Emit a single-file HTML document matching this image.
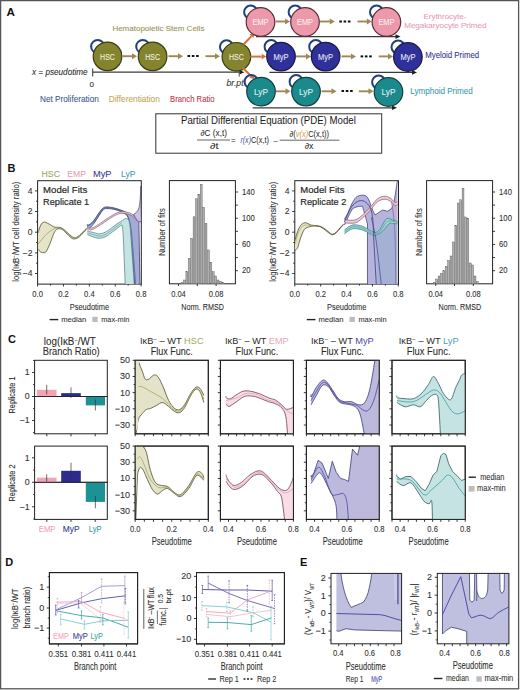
<!DOCTYPE html>
<html><head><meta charset="utf-8"><style>
html,body{margin:0;padding:0;background:#fff;}
svg{display:block;font-family:"Liberation Sans", sans-serif;}
</style></head><body>
<svg width="520" height="690" viewBox="0 0 520 690">
<defs><clipPath id="cb1"><rect x="37.6" y="180.7" width="103.7" height="103.4"/></clipPath><clipPath id="cb2"><rect x="294.8" y="180.7" width="103.7" height="103.4"/></clipPath><clipPath id="cf00"><rect x="135.2" y="360.3" width="73.10000000000002" height="73.5"/></clipPath><clipPath id="cf01"><rect x="135.2" y="446.1" width="73.10000000000002" height="73.29999999999995"/></clipPath><clipPath id="cf10"><rect x="220.4" y="360.3" width="72.99999999999997" height="73.5"/></clipPath><clipPath id="cf11"><rect x="220.4" y="446.1" width="72.99999999999997" height="73.29999999999995"/></clipPath><clipPath id="cf20"><rect x="306.4" y="360.3" width="72.80000000000001" height="73.5"/></clipPath><clipPath id="cf21"><rect x="306.4" y="446.1" width="72.80000000000001" height="73.29999999999995"/></clipPath><clipPath id="cf30"><rect x="392.0" y="360.3" width="73.19999999999999" height="73.5"/></clipPath><clipPath id="cf31"><rect x="392.0" y="446.1" width="73.19999999999999" height="73.29999999999995"/></clipPath><clipPath id="ce1"><rect x="331.0" y="573.4" width="70.6" height="70.4"/></clipPath><clipPath id="ce2"><rect x="437.3" y="573.4" width="71.6" height="70.4"/></clipPath></defs>
<rect x="0" y="0" width="520" height="690" fill="#fff"/>
<rect x="0.60" y="0.60" width="518.00" height="688.20" fill="none" stroke="#555" stroke-width="1.3" />
<text x="6.60" y="16.20" font-size="11.60" fill="#111" font-weight="bold" >A</text>
<text x="112.40" y="31.30" font-size="8.00" fill="#939350" stroke="#939350" stroke-width="0.08" textLength="92.00" lengthAdjust="spacingAndGlyphs" >Hematopoietic Stem Cells</text>
<line x1="92.70" y1="72.20" x2="241.40" y2="72.20" stroke="#3a3a3a" stroke-width="1.3" />
<path d="M244.40,72.20 L239.40,69.90 L239.40,74.50 Z" fill="#222"/>
<line x1="92.70" y1="68.50" x2="92.70" y2="76.50" stroke="#333" stroke-width="1" />
<line x1="239.20" y1="69.00" x2="239.20" y2="76.70" stroke="#555" stroke-width="1" />
<line x1="256.00" y1="36.60" x2="397.50" y2="36.60" stroke="#3a3a3a" stroke-width="1.3" />
<path d="M400.50,36.60 L395.50,34.30 L395.50,38.90 Z" fill="#222"/>
<line x1="269.40" y1="72.40" x2="414.00" y2="72.40" stroke="#3a3a3a" stroke-width="1.3" />
<path d="M417.00,72.40 L412.00,70.10 L412.00,74.70 Z" fill="#222"/>
<line x1="252.70" y1="107.80" x2="394.00" y2="107.80" stroke="#3a3a3a" stroke-width="1.3" />
<path d="M397.00,107.80 L392.00,105.50 L392.00,110.10 Z" fill="#222"/>
<circle cx="97.70" cy="46.50" r="6.6" fill="none" stroke="#1f4080" stroke-width="2.0"/>
<circle cx="107.50" cy="56.40" r="14.3" fill="#84842f" stroke="#3a3a18" stroke-width="1.2"/>
<text x="107.50" y="59.80" font-size="8.80" fill="#f4f0e0" stroke="#f4f0e0" stroke-width="0.08" textLength="14.80" lengthAdjust="spacingAndGlyphs" text-anchor="middle" >HSC</text>
<line x1="122.50" y1="56.20" x2="133.00" y2="56.20" stroke="#9c8a56" stroke-width="1.9" />
<path d="M137.00,56.20 L132.00,53.20 L132.00,59.20 Z" fill="#9c8a56"/>
<circle cx="142.80" cy="46.50" r="6.6" fill="none" stroke="#1f4080" stroke-width="2.0"/>
<circle cx="152.60" cy="56.40" r="14.3" fill="#84842f" stroke="#3a3a18" stroke-width="1.2"/>
<text x="152.60" y="59.80" font-size="8.80" fill="#f4f0e0" stroke="#f4f0e0" stroke-width="0.08" textLength="14.80" lengthAdjust="spacingAndGlyphs" text-anchor="middle" >HSC</text>
<line x1="168.50" y1="56.20" x2="179.00" y2="56.20" stroke="#9c8a56" stroke-width="1.9" />
<path d="M183.00,56.20 L178.00,53.20 L178.00,59.20 Z" fill="#9c8a56"/>
<rect x="187.50" y="55.00" width="2.60" height="2.00" fill="#111" stroke="none" stroke-width="1" />
<rect x="191.80" y="55.00" width="2.60" height="2.00" fill="#111" stroke="none" stroke-width="1" />
<rect x="196.10" y="55.00" width="2.60" height="2.00" fill="#111" stroke="none" stroke-width="1" />
<line x1="205.50" y1="56.20" x2="216.00" y2="56.20" stroke="#9c8a56" stroke-width="1.9" />
<path d="M220.00,56.20 L215.00,53.20 L215.00,59.20 Z" fill="#9c8a56"/>
<circle cx="226.60" cy="46.90" r="6.6" fill="none" stroke="#1f4080" stroke-width="2.0"/>
<circle cx="236.40" cy="56.80" r="14.3" fill="#84842f" stroke="#3a3a18" stroke-width="1.2"/>
<text x="236.40" y="60.20" font-size="8.80" fill="#f4f0e0" stroke="#f4f0e0" stroke-width="0.08" textLength="14.80" lengthAdjust="spacingAndGlyphs" text-anchor="middle" >HSC</text>
<line x1="243.50" y1="44.50" x2="251.42" y2="36.08" stroke="#d8703c" stroke-width="2.0" />
<path d="M254.50,32.80 L253.46,38.00 L249.38,34.16 Z" fill="#d8703c"/>
<line x1="250.50" y1="56.60" x2="261.70" y2="56.60" stroke="#d8703c" stroke-width="2.0" />
<path d="M266.20,56.60 L261.70,59.40 L261.70,53.80 Z" fill="#d8703c"/>
<line x1="242.50" y1="67.80" x2="251.21" y2="75.93" stroke="#d8703c" stroke-width="2.0" />
<path d="M254.50,79.00 L249.30,77.98 L253.12,73.88 Z" fill="#d8703c"/>
<circle cx="250.70" cy="12.10" r="6.6" fill="none" stroke="#1f4080" stroke-width="2.0"/>
<circle cx="260.50" cy="22.00" r="14.3" fill="#ec9aab" stroke="#5a2a3a" stroke-width="1.2"/>
<text x="260.50" y="25.40" font-size="8.80" fill="#fbeef0" stroke="#fbeef0" stroke-width="0.08" textLength="16.00" lengthAdjust="spacingAndGlyphs" text-anchor="middle" >EMP</text>
<line x1="275.60" y1="21.50" x2="286.00" y2="21.50" stroke="#9c8a56" stroke-width="1.9" />
<path d="M290.00,21.50 L285.00,18.50 L285.00,24.50 Z" fill="#9c8a56"/>
<circle cx="295.20" cy="12.10" r="6.6" fill="none" stroke="#1f4080" stroke-width="2.0"/>
<circle cx="305.00" cy="22.00" r="14.3" fill="#ec9aab" stroke="#5a2a3a" stroke-width="1.2"/>
<text x="305.00" y="25.40" font-size="8.80" fill="#fbeef0" stroke="#fbeef0" stroke-width="0.08" textLength="16.00" lengthAdjust="spacingAndGlyphs" text-anchor="middle" >EMP</text>
<line x1="320.00" y1="21.50" x2="330.80" y2="21.50" stroke="#9c8a56" stroke-width="1.9" />
<path d="M334.80,21.50 L329.80,18.50 L329.80,24.50 Z" fill="#9c8a56"/>
<rect x="339.30" y="20.50" width="2.60" height="2.00" fill="#111" stroke="none" stroke-width="1" />
<rect x="343.60" y="20.50" width="2.60" height="2.00" fill="#111" stroke="none" stroke-width="1" />
<rect x="347.90" y="20.50" width="2.60" height="2.00" fill="#111" stroke="none" stroke-width="1" />
<line x1="357.50" y1="21.50" x2="367.80" y2="21.50" stroke="#9c8a56" stroke-width="1.9" />
<path d="M371.80,21.50 L366.80,18.50 L366.80,24.50 Z" fill="#9c8a56"/>
<circle cx="376.60" cy="12.10" r="6.6" fill="none" stroke="#1f4080" stroke-width="2.0"/>
<circle cx="386.40" cy="22.00" r="14.3" fill="#ec9aab" stroke="#5a2a3a" stroke-width="1.2"/>
<text x="386.40" y="25.40" font-size="8.80" fill="#fbeef0" stroke="#fbeef0" stroke-width="0.08" textLength="16.00" lengthAdjust="spacingAndGlyphs" text-anchor="middle" >EMP</text>
<circle cx="271.20" cy="46.70" r="6.6" fill="none" stroke="#1f4080" stroke-width="2.0"/>
<circle cx="281.00" cy="56.60" r="14.3" fill="#30309a" stroke="#1a1a48" stroke-width="1.2"/>
<text x="281.00" y="60.00" font-size="8.80" fill="#e8e8f4" stroke="#e8e8f4" stroke-width="0.08" textLength="15.00" lengthAdjust="spacingAndGlyphs" text-anchor="middle" >MyP</text>
<line x1="296.00" y1="56.40" x2="307.00" y2="56.40" stroke="#9c8a56" stroke-width="1.9" />
<path d="M311.00,56.40 L306.00,53.40 L306.00,59.40 Z" fill="#9c8a56"/>
<circle cx="315.80" cy="46.70" r="6.6" fill="none" stroke="#1f4080" stroke-width="2.0"/>
<circle cx="325.60" cy="56.60" r="14.3" fill="#30309a" stroke="#1a1a48" stroke-width="1.2"/>
<text x="325.60" y="60.00" font-size="8.80" fill="#e8e8f4" stroke="#e8e8f4" stroke-width="0.08" textLength="15.00" lengthAdjust="spacingAndGlyphs" text-anchor="middle" >MyP</text>
<line x1="341.50" y1="56.40" x2="352.00" y2="56.40" stroke="#9c8a56" stroke-width="1.9" />
<path d="M356.00,56.40 L351.00,53.40 L351.00,59.40 Z" fill="#9c8a56"/>
<rect x="360.60" y="55.40" width="2.60" height="2.00" fill="#111" stroke="none" stroke-width="1" />
<rect x="364.90" y="55.40" width="2.60" height="2.00" fill="#111" stroke="none" stroke-width="1" />
<rect x="369.20" y="55.40" width="2.60" height="2.00" fill="#111" stroke="none" stroke-width="1" />
<line x1="378.70" y1="56.40" x2="389.00" y2="56.40" stroke="#9c8a56" stroke-width="1.9" />
<path d="M393.00,56.40 L388.00,53.40 L388.00,59.40 Z" fill="#9c8a56"/>
<circle cx="398.10" cy="47.10" r="6.6" fill="none" stroke="#1f4080" stroke-width="2.0"/>
<circle cx="407.90" cy="57.00" r="14.3" fill="#30309a" stroke="#1a1a48" stroke-width="1.2"/>
<text x="407.90" y="60.40" font-size="8.80" fill="#e8e8f4" stroke="#e8e8f4" stroke-width="0.08" textLength="15.00" lengthAdjust="spacingAndGlyphs" text-anchor="middle" >MyP</text>
<circle cx="251.20" cy="81.70" r="6.6" fill="none" stroke="#1f4080" stroke-width="2.0"/>
<circle cx="261.00" cy="91.60" r="14.3" fill="#1b8a8c" stroke="#173e40" stroke-width="1.2"/>
<text x="261.00" y="95.00" font-size="8.80" fill="#e0f0f0" stroke="#e0f0f0" stroke-width="0.08" textLength="14.00" lengthAdjust="spacingAndGlyphs" text-anchor="middle" >LyP</text>
<line x1="276.00" y1="91.30" x2="286.50" y2="91.30" stroke="#9c8a56" stroke-width="1.9" />
<path d="M290.50,91.30 L285.50,88.30 L285.50,94.30 Z" fill="#9c8a56"/>
<circle cx="296.20" cy="81.70" r="6.6" fill="none" stroke="#1f4080" stroke-width="2.0"/>
<circle cx="306.00" cy="91.60" r="14.3" fill="#1b8a8c" stroke="#173e40" stroke-width="1.2"/>
<text x="306.00" y="95.00" font-size="8.80" fill="#e0f0f0" stroke="#e0f0f0" stroke-width="0.08" textLength="14.00" lengthAdjust="spacingAndGlyphs" text-anchor="middle" >LyP</text>
<line x1="321.50" y1="91.30" x2="332.50" y2="91.30" stroke="#9c8a56" stroke-width="1.9" />
<path d="M336.50,91.30 L331.50,88.30 L331.50,94.30 Z" fill="#9c8a56"/>
<rect x="341.50" y="90.00" width="2.60" height="2.00" fill="#111" stroke="none" stroke-width="1" />
<rect x="345.80" y="90.00" width="2.60" height="2.00" fill="#111" stroke="none" stroke-width="1" />
<rect x="350.10" y="90.00" width="2.60" height="2.00" fill="#111" stroke="none" stroke-width="1" />
<line x1="358.80" y1="91.30" x2="369.50" y2="91.30" stroke="#9c8a56" stroke-width="1.9" />
<path d="M373.50,91.30 L368.50,88.30 L368.50,94.30 Z" fill="#9c8a56"/>
<circle cx="378.70" cy="82.10" r="6.6" fill="none" stroke="#1f4080" stroke-width="2.0"/>
<circle cx="388.50" cy="92.00" r="14.3" fill="#1b8a8c" stroke="#173e40" stroke-width="1.2"/>
<text x="388.50" y="95.40" font-size="8.80" fill="#e0f0f0" stroke="#e0f0f0" stroke-width="0.08" textLength="14.00" lengthAdjust="spacingAndGlyphs" text-anchor="middle" >LyP</text>
<text x="423.50" y="19.10" font-size="8.00" fill="#e89ab0" stroke="#e89ab0" stroke-width="0.08" textLength="42.80" lengthAdjust="spacingAndGlyphs" >Erythrocyte-</text>
<text x="404.20" y="27.90" font-size="8.00" fill="#e89ab0" stroke="#e89ab0" stroke-width="0.08" textLength="82.30" lengthAdjust="spacingAndGlyphs" >Megakaryocyte Primed</text>
<text x="425.20" y="58.00" font-size="8.40" fill="#343492" stroke="#343492" stroke-width="0.08" textLength="54.00" lengthAdjust="spacingAndGlyphs" >Myeloid Primed</text>
<text x="410.20" y="93.50" font-size="8.40" fill="#3a9cac" stroke="#3a9cac" stroke-width="0.08" textLength="62.60" lengthAdjust="spacingAndGlyphs" >Lymphoid Primed</text>
<text x="32.00" y="75.00" font-size="8.60" fill="#2a2a2a" stroke="#2a2a2a" stroke-width="0.08" textLength="55.60" lengthAdjust="spacingAndGlyphs" font-style="italic" >x = pseudotime</text>
<text x="89.60" y="86.60" font-size="8.00" fill="#2a2a2a" stroke="#2a2a2a" stroke-width="0.08" >0</text>
<text x="226.50" y="86.40" font-size="8.80" fill="#333" stroke="#333" stroke-width="0.08" textLength="17.10" lengthAdjust="spacingAndGlyphs" font-style="italic" >br.pt</text>
<text x="40.00" y="101.60" font-size="8.40" fill="#3a5a96" stroke="#3a5a96" stroke-width="0.08" textLength="58.80" lengthAdjust="spacingAndGlyphs" >Net Proliferation</text>
<text x="108.80" y="101.60" font-size="8.40" fill="#c6a854" stroke="#c6a854" stroke-width="0.08" textLength="51.00" lengthAdjust="spacingAndGlyphs" >Differentiation</text>
<text x="170.00" y="101.60" font-size="8.40" fill="#c23848" stroke="#c23848" stroke-width="0.08" textLength="44.60" lengthAdjust="spacingAndGlyphs" >Branch Ratio</text>
<rect x="155.80" y="113.80" width="225.90" height="39.40" fill="none" stroke="#333" stroke-width="1.0" />
<text x="181.00" y="124.30" font-size="10.40" fill="#1e1e1e" stroke="#1e1e1e" stroke-width="0.05" textLength="174.80" lengthAdjust="spacingAndGlyphs" >Partial Differential Equation (PDE) Model</text>
<text x="200.50" y="136.40" font-size="8.60" fill="#222" textLength="26.50" lengthAdjust="spacingAndGlyphs" >∂C (x,t)</text>
<line x1="197.00" y1="140.00" x2="230.00" y2="140.00" stroke="#333" stroke-width="0.75" />
<text x="210.00" y="148.60" font-size="8.60" fill="#222" textLength="8.50" lengthAdjust="spacingAndGlyphs" >∂t</text>
<text x="231.00" y="142.70" font-size="7.80" fill="#222" >=</text>
<text x="240.40" y="142.70" font-size="8.60" fill="#3a5aa8" textLength="10.60" lengthAdjust="spacingAndGlyphs" font-style="italic" >r(x)</text>
<text x="251.00" y="142.70" font-size="8.60" fill="#222" textLength="18.00" lengthAdjust="spacingAndGlyphs" >C(x,t)</text>
<text x="273.50" y="142.70" font-size="7.80" fill="#222" >–</text>
<line x1="279.60" y1="140.20" x2="339.40" y2="140.20" stroke="#333" stroke-width="0.75" />
<text x="289.5" y="137.2" font-size="8.6" fill="#222" textLength="39.5" lengthAdjust="spacingAndGlyphs">∂(<tspan fill="#d0a040" font-style="italic">v(x)</tspan>C(x,t))</text>
<text x="304.80" y="148.60" font-size="8.60" fill="#222" textLength="8.70" lengthAdjust="spacingAndGlyphs" >∂x</text>
<text x="7.40" y="172.00" font-size="11.00" fill="#111" font-weight="bold" >B</text>
<text x="41.50" y="176.80" font-size="9.68" fill="#a4a460" stroke="#a4a460" stroke-width="0.08" textLength="18.50" lengthAdjust="spacingAndGlyphs" >HSC</text>
<text x="67.30" y="176.80" font-size="9.68" fill="#e6a0b2" stroke="#e6a0b2" stroke-width="0.08" textLength="18.70" lengthAdjust="spacingAndGlyphs" >EMP</text>
<text x="93.00" y="176.80" font-size="9.68" fill="#38388e" stroke="#38388e" stroke-width="0.08" textLength="18.50" lengthAdjust="spacingAndGlyphs" >MyP</text>
<text x="121.00" y="176.80" font-size="9.68" fill="#40a0b0" stroke="#40a0b0" stroke-width="0.08" textLength="14.40" lengthAdjust="spacingAndGlyphs" >LyP</text>
<rect x="37.60" y="180.70" width="103.70" height="103.40" fill="none" stroke="#222" stroke-width="1.0" />
<line x1="35.00" y1="190.90" x2="37.60" y2="190.90" stroke="#222" stroke-width="0.9" />
<line x1="35.00" y1="211.50" x2="37.60" y2="211.50" stroke="#222" stroke-width="0.9" />
<line x1="35.00" y1="232.20" x2="37.60" y2="232.20" stroke="#222" stroke-width="0.9" />
<line x1="35.00" y1="252.90" x2="37.60" y2="252.90" stroke="#222" stroke-width="0.9" />
<line x1="35.00" y1="273.50" x2="37.60" y2="273.50" stroke="#222" stroke-width="0.9" />
<line x1="36.00" y1="201.20" x2="37.60" y2="201.20" stroke="#222" stroke-width="0.9" />
<line x1="36.00" y1="221.85" x2="37.60" y2="221.85" stroke="#222" stroke-width="0.9" />
<line x1="36.00" y1="242.55" x2="37.60" y2="242.55" stroke="#222" stroke-width="0.9" />
<line x1="36.00" y1="263.20" x2="37.60" y2="263.20" stroke="#222" stroke-width="0.9" />
<text x="32.40" y="193.70" font-size="8.55" fill="#2e2e2e" stroke="#2e2e2e" stroke-width="0.08" text-anchor="end" >4</text>
<text x="32.40" y="214.30" font-size="8.55" fill="#2e2e2e" stroke="#2e2e2e" stroke-width="0.08" text-anchor="end" >2</text>
<text x="32.40" y="235.00" font-size="8.55" fill="#2e2e2e" stroke="#2e2e2e" stroke-width="0.08" text-anchor="end" >0</text>
<text x="32.40" y="255.70" font-size="8.55" fill="#2e2e2e" stroke="#2e2e2e" stroke-width="0.08" text-anchor="end" >−2</text>
<text x="32.40" y="276.30" font-size="8.55" fill="#2e2e2e" stroke="#2e2e2e" stroke-width="0.08" text-anchor="end" >−4</text>
<line x1="37.60" y1="284.10" x2="37.60" y2="286.50" stroke="#222" stroke-width="0.9" />
<line x1="63.48" y1="284.10" x2="63.48" y2="286.50" stroke="#222" stroke-width="0.9" />
<line x1="89.36" y1="284.10" x2="89.36" y2="286.50" stroke="#222" stroke-width="0.9" />
<line x1="115.24" y1="284.10" x2="115.24" y2="286.50" stroke="#222" stroke-width="0.9" />
<line x1="141.12" y1="284.10" x2="141.12" y2="286.50" stroke="#222" stroke-width="0.9" />
<line x1="50.54" y1="284.10" x2="50.54" y2="285.60" stroke="#222" stroke-width="0.9" />
<line x1="76.42" y1="284.10" x2="76.42" y2="285.60" stroke="#222" stroke-width="0.9" />
<line x1="102.30" y1="284.10" x2="102.30" y2="285.60" stroke="#222" stroke-width="0.9" />
<line x1="128.18" y1="284.10" x2="128.18" y2="285.60" stroke="#222" stroke-width="0.9" />
<text x="37.60" y="297.00" font-size="8.51" fill="#2e2e2e" stroke="#2e2e2e" stroke-width="0.08" textLength="10.60" lengthAdjust="spacingAndGlyphs" text-anchor="middle" >0.0</text>
<text x="63.48" y="297.00" font-size="8.51" fill="#2e2e2e" stroke="#2e2e2e" stroke-width="0.08" textLength="10.60" lengthAdjust="spacingAndGlyphs" text-anchor="middle" >0.2</text>
<text x="89.36" y="297.00" font-size="8.51" fill="#2e2e2e" stroke="#2e2e2e" stroke-width="0.08" textLength="10.60" lengthAdjust="spacingAndGlyphs" text-anchor="middle" >0.4</text>
<text x="115.24" y="297.00" font-size="8.51" fill="#2e2e2e" stroke="#2e2e2e" stroke-width="0.08" textLength="10.60" lengthAdjust="spacingAndGlyphs" text-anchor="middle" >0.6</text>
<text x="141.12" y="297.00" font-size="8.51" fill="#2e2e2e" stroke="#2e2e2e" stroke-width="0.08" textLength="10.60" lengthAdjust="spacingAndGlyphs" text-anchor="middle" >0.8</text>
<text x="89.45" y="310.20" font-size="9.33" fill="#2e2e2e" stroke="#2e2e2e" stroke-width="0.08" textLength="39.40" lengthAdjust="spacingAndGlyphs" text-anchor="middle" >Pseudotime</text>
<text transform="translate(15.40,231.70) rotate(-90)" x="0" y="3.19" font-size="8.86" fill="#2e2e2e" text-anchor="middle" stroke="#2e2e2e" stroke-width="0.08" textLength="100.00" lengthAdjust="spacingAndGlyphs">log(IκB<tspan baseline-shift="super" font-size="5">−</tspan>/WT cell density ratio)</text>
<text x="43.10" y="193.30" font-size="9.79" fill="#262626" stroke="#262626" stroke-width="0.18" textLength="44.20" lengthAdjust="spacingAndGlyphs" >Model Fits</text>
<text x="43.10" y="204.60" font-size="9.79" fill="#262626" stroke="#262626" stroke-width="0.18" textLength="46.10" lengthAdjust="spacingAndGlyphs" >Replicate 1</text>
<line x1="49.60" y1="319.60" x2="58.30" y2="319.60" stroke="#222" stroke-width="1.4" />
<text x="61.20" y="321.50" font-size="7.70" fill="#333" stroke="#333" stroke-width="0.08" textLength="25.00" lengthAdjust="spacingAndGlyphs" >median</text>
<rect x="92.30" y="316.80" width="5.40" height="5.20" fill="#bdbdbd" stroke="none" stroke-width="1" />
<text x="101.20" y="321.50" font-size="7.70" fill="#333" stroke="#333" stroke-width="0.08" textLength="28.20" lengthAdjust="spacingAndGlyphs" >max-min</text>
<rect x="294.80" y="180.70" width="103.70" height="103.40" fill="none" stroke="#222" stroke-width="1.0" />
<line x1="292.20" y1="190.90" x2="294.80" y2="190.90" stroke="#222" stroke-width="0.9" />
<line x1="292.20" y1="211.50" x2="294.80" y2="211.50" stroke="#222" stroke-width="0.9" />
<line x1="292.20" y1="232.20" x2="294.80" y2="232.20" stroke="#222" stroke-width="0.9" />
<line x1="292.20" y1="252.90" x2="294.80" y2="252.90" stroke="#222" stroke-width="0.9" />
<line x1="292.20" y1="273.50" x2="294.80" y2="273.50" stroke="#222" stroke-width="0.9" />
<line x1="293.20" y1="201.20" x2="294.80" y2="201.20" stroke="#222" stroke-width="0.9" />
<line x1="293.20" y1="221.85" x2="294.80" y2="221.85" stroke="#222" stroke-width="0.9" />
<line x1="293.20" y1="242.55" x2="294.80" y2="242.55" stroke="#222" stroke-width="0.9" />
<line x1="293.20" y1="263.20" x2="294.80" y2="263.20" stroke="#222" stroke-width="0.9" />
<text x="289.60" y="193.70" font-size="8.55" fill="#2e2e2e" stroke="#2e2e2e" stroke-width="0.08" text-anchor="end" >4</text>
<text x="289.60" y="214.30" font-size="8.55" fill="#2e2e2e" stroke="#2e2e2e" stroke-width="0.08" text-anchor="end" >2</text>
<text x="289.60" y="235.00" font-size="8.55" fill="#2e2e2e" stroke="#2e2e2e" stroke-width="0.08" text-anchor="end" >0</text>
<text x="289.60" y="255.70" font-size="8.55" fill="#2e2e2e" stroke="#2e2e2e" stroke-width="0.08" text-anchor="end" >−2</text>
<text x="289.60" y="276.30" font-size="8.55" fill="#2e2e2e" stroke="#2e2e2e" stroke-width="0.08" text-anchor="end" >−4</text>
<line x1="294.80" y1="284.10" x2="294.80" y2="286.50" stroke="#222" stroke-width="0.9" />
<line x1="320.68" y1="284.10" x2="320.68" y2="286.50" stroke="#222" stroke-width="0.9" />
<line x1="346.56" y1="284.10" x2="346.56" y2="286.50" stroke="#222" stroke-width="0.9" />
<line x1="372.44" y1="284.10" x2="372.44" y2="286.50" stroke="#222" stroke-width="0.9" />
<line x1="398.32" y1="284.10" x2="398.32" y2="286.50" stroke="#222" stroke-width="0.9" />
<line x1="307.74" y1="284.10" x2="307.74" y2="285.60" stroke="#222" stroke-width="0.9" />
<line x1="333.62" y1="284.10" x2="333.62" y2="285.60" stroke="#222" stroke-width="0.9" />
<line x1="359.50" y1="284.10" x2="359.50" y2="285.60" stroke="#222" stroke-width="0.9" />
<line x1="385.38" y1="284.10" x2="385.38" y2="285.60" stroke="#222" stroke-width="0.9" />
<text x="294.80" y="297.00" font-size="8.51" fill="#2e2e2e" stroke="#2e2e2e" stroke-width="0.08" textLength="10.60" lengthAdjust="spacingAndGlyphs" text-anchor="middle" >0.0</text>
<text x="320.68" y="297.00" font-size="8.51" fill="#2e2e2e" stroke="#2e2e2e" stroke-width="0.08" textLength="10.60" lengthAdjust="spacingAndGlyphs" text-anchor="middle" >0.2</text>
<text x="346.56" y="297.00" font-size="8.51" fill="#2e2e2e" stroke="#2e2e2e" stroke-width="0.08" textLength="10.60" lengthAdjust="spacingAndGlyphs" text-anchor="middle" >0.4</text>
<text x="372.44" y="297.00" font-size="8.51" fill="#2e2e2e" stroke="#2e2e2e" stroke-width="0.08" textLength="10.60" lengthAdjust="spacingAndGlyphs" text-anchor="middle" >0.6</text>
<text x="398.32" y="297.00" font-size="8.51" fill="#2e2e2e" stroke="#2e2e2e" stroke-width="0.08" textLength="10.60" lengthAdjust="spacingAndGlyphs" text-anchor="middle" >0.8</text>
<text x="346.65" y="310.20" font-size="9.33" fill="#2e2e2e" stroke="#2e2e2e" stroke-width="0.08" textLength="39.40" lengthAdjust="spacingAndGlyphs" text-anchor="middle" >Pseudotime</text>
<text transform="translate(272.60,231.70) rotate(-90)" x="0" y="3.19" font-size="8.86" fill="#2e2e2e" text-anchor="middle" stroke="#2e2e2e" stroke-width="0.08" textLength="100.00" lengthAdjust="spacingAndGlyphs">log(IκB<tspan baseline-shift="super" font-size="5">−</tspan>/WT cell density ratio)</text>
<text x="300.30" y="193.30" font-size="9.79" fill="#262626" stroke="#262626" stroke-width="0.18" textLength="44.20" lengthAdjust="spacingAndGlyphs" >Model Fits</text>
<text x="300.30" y="204.60" font-size="9.79" fill="#262626" stroke="#262626" stroke-width="0.18" textLength="46.10" lengthAdjust="spacingAndGlyphs" >Replicate 2</text>
<line x1="306.80" y1="319.60" x2="315.50" y2="319.60" stroke="#222" stroke-width="1.4" />
<text x="318.40" y="321.50" font-size="7.70" fill="#333" stroke="#333" stroke-width="0.08" textLength="25.00" lengthAdjust="spacingAndGlyphs" >median</text>
<rect x="349.50" y="316.80" width="5.40" height="5.20" fill="#bdbdbd" stroke="none" stroke-width="1" />
<text x="358.40" y="321.50" font-size="7.70" fill="#333" stroke="#333" stroke-width="0.08" textLength="28.20" lengthAdjust="spacingAndGlyphs" >max-min</text>
<rect x="169.40" y="180.60" width="66.00" height="103.20" fill="none" stroke="#222" stroke-width="1.0" />
<line x1="235.40" y1="270.69" x2="237.90" y2="270.69" stroke="#222" stroke-width="0.9" />
<line x1="235.40" y1="257.57" x2="237.90" y2="257.57" stroke="#222" stroke-width="0.9" />
<line x1="235.40" y1="244.46" x2="237.90" y2="244.46" stroke="#222" stroke-width="0.9" />
<line x1="235.40" y1="231.34" x2="237.90" y2="231.34" stroke="#222" stroke-width="0.9" />
<line x1="235.40" y1="218.23" x2="237.90" y2="218.23" stroke="#222" stroke-width="0.9" />
<line x1="235.40" y1="205.12" x2="237.90" y2="205.12" stroke="#222" stroke-width="0.9" />
<line x1="235.40" y1="192.00" x2="237.90" y2="192.00" stroke="#222" stroke-width="0.9" />
<text x="241.90" y="273.49" font-size="8.25" fill="#2e2e2e" stroke="#2e2e2e" stroke-width="0.08" textLength="8.50" lengthAdjust="spacingAndGlyphs" >20</text>
<text x="241.90" y="247.26" font-size="8.25" fill="#2e2e2e" stroke="#2e2e2e" stroke-width="0.08" textLength="8.50" lengthAdjust="spacingAndGlyphs" >60</text>
<text x="241.90" y="221.03" font-size="8.25" fill="#2e2e2e" stroke="#2e2e2e" stroke-width="0.08" textLength="12.80" lengthAdjust="spacingAndGlyphs" >100</text>
<text x="241.90" y="194.80" font-size="8.25" fill="#2e2e2e" stroke="#2e2e2e" stroke-width="0.08" textLength="12.80" lengthAdjust="spacingAndGlyphs" >140</text>
<line x1="178.50" y1="283.80" x2="178.50" y2="286.00" stroke="#222" stroke-width="0.9" />
<line x1="197.30" y1="283.80" x2="197.30" y2="286.00" stroke="#222" stroke-width="0.9" />
<line x1="216.10" y1="283.80" x2="216.10" y2="286.00" stroke="#222" stroke-width="0.9" />
<text x="178.50" y="296.70" font-size="8.51" fill="#2e2e2e" stroke="#2e2e2e" stroke-width="0.08" textLength="14.60" lengthAdjust="spacingAndGlyphs" text-anchor="middle" >0.04</text>
<text x="216.10" y="296.70" font-size="8.51" fill="#2e2e2e" stroke="#2e2e2e" stroke-width="0.08" textLength="14.60" lengthAdjust="spacingAndGlyphs" text-anchor="middle" >0.08</text>
<text x="202.60" y="310.00" font-size="9.33" fill="#2e2e2e" stroke="#2e2e2e" stroke-width="0.08" textLength="42.60" lengthAdjust="spacingAndGlyphs" text-anchor="middle" >Norm. RMSD</text>
<text transform="translate(162.00,232.00) rotate(-90)" x="0" y="3.11" font-size="8.64" fill="#333" text-anchor="middle" stroke="#333" stroke-width="0.08" textLength="47.50" lengthAdjust="spacingAndGlyphs">Number of fits</text>
<rect x="181.10" y="282.80" width="1.85" height="1.00" fill="#b0b0b0" stroke="#505050" stroke-width="0.4" />
<rect x="183.50" y="280.00" width="1.85" height="3.80" fill="#b0b0b0" stroke="#505050" stroke-width="0.4" />
<rect x="185.90" y="271.80" width="1.85" height="12.00" fill="#b0b0b0" stroke="#505050" stroke-width="0.4" />
<rect x="188.30" y="258.20" width="1.85" height="25.60" fill="#b0b0b0" stroke="#505050" stroke-width="0.4" />
<rect x="190.70" y="238.50" width="1.85" height="45.30" fill="#b0b0b0" stroke="#505050" stroke-width="0.4" />
<rect x="193.10" y="216.80" width="1.85" height="67.00" fill="#b0b0b0" stroke="#505050" stroke-width="0.4" />
<rect x="195.50" y="198.80" width="1.85" height="85.00" fill="#b0b0b0" stroke="#505050" stroke-width="0.4" />
<rect x="197.90" y="194.20" width="1.85" height="89.60" fill="#b0b0b0" stroke="#505050" stroke-width="0.4" />
<rect x="200.30" y="184.20" width="1.85" height="99.60" fill="#b0b0b0" stroke="#505050" stroke-width="0.4" />
<rect x="202.70" y="207.30" width="1.85" height="76.50" fill="#b0b0b0" stroke="#505050" stroke-width="0.4" />
<rect x="205.10" y="223.50" width="1.85" height="60.30" fill="#b0b0b0" stroke="#505050" stroke-width="0.4" />
<rect x="207.50" y="250.00" width="1.85" height="33.80" fill="#b0b0b0" stroke="#505050" stroke-width="0.4" />
<rect x="209.90" y="262.60" width="1.85" height="21.20" fill="#b0b0b0" stroke="#505050" stroke-width="0.4" />
<rect x="212.30" y="271.80" width="1.85" height="12.00" fill="#b0b0b0" stroke="#505050" stroke-width="0.4" />
<rect x="214.70" y="276.00" width="1.85" height="7.80" fill="#b0b0b0" stroke="#505050" stroke-width="0.4" />
<rect x="217.10" y="280.00" width="1.85" height="3.80" fill="#b0b0b0" stroke="#505050" stroke-width="0.4" />
<rect x="219.50" y="281.50" width="1.85" height="2.30" fill="#b0b0b0" stroke="#505050" stroke-width="0.4" />
<rect x="221.90" y="282.80" width="1.85" height="1.00" fill="#b0b0b0" stroke="#505050" stroke-width="0.4" />
<rect x="426.60" y="180.60" width="66.00" height="103.20" fill="none" stroke="#222" stroke-width="1.0" />
<line x1="492.60" y1="270.69" x2="495.10" y2="270.69" stroke="#222" stroke-width="0.9" />
<line x1="492.60" y1="257.57" x2="495.10" y2="257.57" stroke="#222" stroke-width="0.9" />
<line x1="492.60" y1="244.46" x2="495.10" y2="244.46" stroke="#222" stroke-width="0.9" />
<line x1="492.60" y1="231.34" x2="495.10" y2="231.34" stroke="#222" stroke-width="0.9" />
<line x1="492.60" y1="218.23" x2="495.10" y2="218.23" stroke="#222" stroke-width="0.9" />
<line x1="492.60" y1="205.12" x2="495.10" y2="205.12" stroke="#222" stroke-width="0.9" />
<line x1="492.60" y1="192.00" x2="495.10" y2="192.00" stroke="#222" stroke-width="0.9" />
<text x="499.10" y="273.49" font-size="8.25" fill="#2e2e2e" stroke="#2e2e2e" stroke-width="0.08" textLength="8.50" lengthAdjust="spacingAndGlyphs" >20</text>
<text x="499.10" y="247.26" font-size="8.25" fill="#2e2e2e" stroke="#2e2e2e" stroke-width="0.08" textLength="8.50" lengthAdjust="spacingAndGlyphs" >60</text>
<text x="499.10" y="221.03" font-size="8.25" fill="#2e2e2e" stroke="#2e2e2e" stroke-width="0.08" textLength="12.80" lengthAdjust="spacingAndGlyphs" >100</text>
<text x="499.10" y="194.80" font-size="8.25" fill="#2e2e2e" stroke="#2e2e2e" stroke-width="0.08" textLength="12.80" lengthAdjust="spacingAndGlyphs" >140</text>
<line x1="435.70" y1="283.80" x2="435.70" y2="286.00" stroke="#222" stroke-width="0.9" />
<line x1="454.50" y1="283.80" x2="454.50" y2="286.00" stroke="#222" stroke-width="0.9" />
<line x1="473.30" y1="283.80" x2="473.30" y2="286.00" stroke="#222" stroke-width="0.9" />
<text x="435.70" y="296.70" font-size="8.51" fill="#2e2e2e" stroke="#2e2e2e" stroke-width="0.08" textLength="14.60" lengthAdjust="spacingAndGlyphs" text-anchor="middle" >0.04</text>
<text x="473.30" y="296.70" font-size="8.51" fill="#2e2e2e" stroke="#2e2e2e" stroke-width="0.08" textLength="14.60" lengthAdjust="spacingAndGlyphs" text-anchor="middle" >0.08</text>
<text x="459.80" y="310.00" font-size="9.33" fill="#2e2e2e" stroke="#2e2e2e" stroke-width="0.08" textLength="42.60" lengthAdjust="spacingAndGlyphs" text-anchor="middle" >Norm. RMSD</text>
<text transform="translate(419.20,232.00) rotate(-90)" x="0" y="3.11" font-size="8.64" fill="#333" text-anchor="middle" stroke="#333" stroke-width="0.08" textLength="47.50" lengthAdjust="spacingAndGlyphs">Number of fits</text>
<rect x="433.30" y="282.30" width="1.85" height="1.50" fill="#b0b0b0" stroke="#505050" stroke-width="0.4" />
<rect x="435.70" y="279.00" width="1.85" height="4.80" fill="#b0b0b0" stroke="#505050" stroke-width="0.4" />
<rect x="438.10" y="276.00" width="1.85" height="7.80" fill="#b0b0b0" stroke="#505050" stroke-width="0.4" />
<rect x="440.50" y="273.30" width="1.85" height="10.50" fill="#b0b0b0" stroke="#505050" stroke-width="0.4" />
<rect x="442.90" y="270.80" width="1.85" height="13.00" fill="#b0b0b0" stroke="#505050" stroke-width="0.4" />
<rect x="445.30" y="266.20" width="1.85" height="17.60" fill="#b0b0b0" stroke="#505050" stroke-width="0.4" />
<rect x="447.70" y="260.40" width="1.85" height="23.40" fill="#b0b0b0" stroke="#505050" stroke-width="0.4" />
<rect x="450.10" y="256.00" width="1.85" height="27.80" fill="#b0b0b0" stroke="#505050" stroke-width="0.4" />
<rect x="452.50" y="242.00" width="1.85" height="41.80" fill="#b0b0b0" stroke="#505050" stroke-width="0.4" />
<rect x="454.90" y="225.40" width="1.85" height="58.40" fill="#b0b0b0" stroke="#505050" stroke-width="0.4" />
<rect x="457.30" y="203.00" width="1.85" height="80.80" fill="#b0b0b0" stroke="#505050" stroke-width="0.4" />
<rect x="459.70" y="199.80" width="1.85" height="84.00" fill="#b0b0b0" stroke="#505050" stroke-width="0.4" />
<rect x="462.10" y="188.30" width="1.85" height="95.50" fill="#b0b0b0" stroke="#505050" stroke-width="0.4" />
<rect x="464.50" y="217.00" width="1.85" height="66.80" fill="#b0b0b0" stroke="#505050" stroke-width="0.4" />
<rect x="466.90" y="218.50" width="1.85" height="65.30" fill="#b0b0b0" stroke="#505050" stroke-width="0.4" />
<rect x="469.30" y="263.00" width="1.85" height="20.80" fill="#b0b0b0" stroke="#505050" stroke-width="0.4" />
<rect x="471.70" y="265.00" width="1.85" height="18.80" fill="#b0b0b0" stroke="#505050" stroke-width="0.4" />
<rect x="474.10" y="276.00" width="1.85" height="7.80" fill="#b0b0b0" stroke="#505050" stroke-width="0.4" />
<rect x="476.50" y="281.50" width="1.85" height="2.30" fill="#b0b0b0" stroke="#505050" stroke-width="0.4" />
<g clip-path="url(#cb1)"><path d="M37.90,233.10 C38.38,231.75 39.83,226.83 40.80,225.00 C41.77,223.17 42.55,222.38 43.70,222.10 C44.85,221.82 46.37,222.72 47.70,223.30 C49.03,223.88 50.45,224.93 51.70,225.60 C52.95,226.27 53.85,227.02 55.20,227.30 C56.55,227.58 58.45,227.02 59.80,227.30 C61.15,227.58 62.05,228.13 63.30,229.00 C64.55,229.87 65.87,231.25 67.30,232.50 C68.73,233.75 70.55,235.63 71.90,236.50 C73.25,237.37 74.15,237.88 75.40,237.70 C76.65,237.52 78.05,236.47 79.40,235.40 C80.75,234.33 82.32,232.48 83.50,231.30 C84.68,230.12 86.00,228.80 86.50,228.30 L86.50,229.40 C86.00,229.92 84.68,231.27 83.50,232.50 C82.32,233.73 80.75,235.75 79.40,236.80 C78.05,237.85 76.65,238.55 75.40,238.80 C74.15,239.05 73.25,239.07 71.90,238.30 C70.55,237.53 68.73,235.55 67.30,234.20 C65.87,232.85 64.55,231.12 63.30,230.20 C62.05,229.28 60.97,228.80 59.80,228.70 C58.63,228.60 57.35,228.68 56.30,229.60 C55.25,230.52 54.55,231.88 53.50,234.20 C52.45,236.52 51.17,240.70 50.00,243.50 C48.83,246.30 47.47,249.47 46.50,251.00 C45.53,252.53 45.15,252.52 44.20,252.70 C43.25,252.88 41.85,252.68 40.80,252.10 C39.75,251.52 38.38,249.68 37.90,249.20 Z" fill="#e6e4c8" stroke="none"/>
<path d="M37.90,233.10 C38.38,231.75 39.83,226.83 40.80,225.00 C41.77,223.17 42.55,222.38 43.70,222.10 C44.85,221.82 46.37,222.72 47.70,223.30 C49.03,223.88 50.45,224.93 51.70,225.60 C52.95,226.27 53.85,227.02 55.20,227.30 C56.55,227.58 58.45,227.02 59.80,227.30 C61.15,227.58 62.05,228.13 63.30,229.00 C64.55,229.87 65.87,231.25 67.30,232.50 C68.73,233.75 70.55,235.63 71.90,236.50 C73.25,237.37 74.15,237.88 75.40,237.70 C76.65,237.52 78.05,236.47 79.40,235.40 C80.75,234.33 82.32,232.48 83.50,231.30 C84.68,230.12 86.00,228.80 86.50,228.30" fill="none" stroke="#4e4e2e" stroke-width="0.8"/>
<path d="M86.50,229.40 C86.00,229.92 84.68,231.27 83.50,232.50 C82.32,233.73 80.75,235.75 79.40,236.80 C78.05,237.85 76.65,238.55 75.40,238.80 C74.15,239.05 73.25,239.07 71.90,238.30 C70.55,237.53 68.73,235.55 67.30,234.20 C65.87,232.85 64.55,231.12 63.30,230.20 C62.05,229.28 60.97,228.80 59.80,228.70 C58.63,228.60 57.35,228.68 56.30,229.60 C55.25,230.52 54.55,231.88 53.50,234.20 C52.45,236.52 51.17,240.70 50.00,243.50 C48.83,246.30 47.47,249.47 46.50,251.00 C45.53,252.53 45.15,252.52 44.20,252.70 C43.25,252.88 41.85,252.68 40.80,252.10 C39.75,251.52 38.38,249.68 37.90,249.20" fill="none" stroke="#4e4e2e" stroke-width="0.8"/></g>
<path d="M38.20,244.00 C39.58,242.37 43.77,236.78 46.50,234.20 C49.23,231.62 52.38,229.55 54.60,228.50 C56.82,227.45 58.35,227.72 59.80,227.90 C61.25,228.08 62.05,228.70 63.30,229.60 C64.55,230.50 65.87,232.00 67.30,233.30 C68.73,234.60 70.55,236.58 71.90,237.40 C73.25,238.22 74.15,238.42 75.40,238.20 C76.65,237.98 78.05,237.15 79.40,236.10 C80.75,235.05 82.32,233.12 83.50,231.90 C84.68,230.68 86.00,229.32 86.50,228.80" fill="none" stroke="#9a9a5a" stroke-width="0.7" clip-path="url(#cb1)" />
<g clip-path="url(#cb1)"><path d="M86.90,224.60 C87.35,224.60 88.38,225.37 89.60,224.60 C90.82,223.83 92.67,221.92 94.20,220.00 C95.73,218.08 97.25,215.15 98.80,213.10 C100.35,211.05 101.95,208.72 103.50,207.70 C105.05,206.68 106.05,206.88 108.10,207.00 C110.15,207.12 112.98,207.60 115.80,208.40 C118.62,209.20 122.58,210.83 125.00,211.80 C127.42,212.77 128.57,213.40 130.30,214.20 C132.03,215.00 134.03,215.80 135.40,216.60 C136.77,217.40 137.87,215.10 138.50,219.00 C139.13,222.90 138.97,229.08 139.20,240.00 C139.43,250.92 139.78,277.08 139.90,284.50 L134.60,284.50 C134.12,278.42 132.50,257.08 131.70,248.00 C130.90,238.92 130.40,235.08 129.80,230.00 C129.20,224.92 129.07,220.30 128.10,217.50 C127.13,214.70 126.05,214.48 124.00,213.20 C121.95,211.92 118.45,210.57 115.80,209.80 C113.15,209.03 110.15,208.63 108.10,208.60 C106.05,208.57 105.05,208.37 103.50,209.60 C101.95,210.83 100.35,213.75 98.80,216.00 C97.25,218.25 95.73,221.08 94.20,223.10 C92.67,225.12 90.82,227.20 89.60,228.10 C88.38,229.00 87.35,228.43 86.90,228.50 Z" fill="#a4aad6" stroke="none"/>
<path d="M86.90,224.60 C87.35,224.60 88.38,225.37 89.60,224.60 C90.82,223.83 92.67,221.92 94.20,220.00 C95.73,218.08 97.25,215.15 98.80,213.10 C100.35,211.05 101.95,208.72 103.50,207.70 C105.05,206.68 106.05,206.88 108.10,207.00 C110.15,207.12 112.98,207.60 115.80,208.40 C118.62,209.20 122.58,210.83 125.00,211.80 C127.42,212.77 128.57,213.40 130.30,214.20 C132.03,215.00 134.03,215.80 135.40,216.60 C136.77,217.40 137.87,215.10 138.50,219.00 C139.13,222.90 138.97,229.08 139.20,240.00 C139.43,250.92 139.78,277.08 139.90,284.50" fill="none" stroke="#383c6c" stroke-width="0.8"/>
<path d="M134.60,284.50 C134.12,278.42 132.50,257.08 131.70,248.00 C130.90,238.92 130.40,235.08 129.80,230.00 C129.20,224.92 129.07,220.30 128.10,217.50 C127.13,214.70 126.05,214.48 124.00,213.20 C121.95,211.92 118.45,210.57 115.80,209.80 C113.15,209.03 110.15,208.63 108.10,208.60 C106.05,208.57 105.05,208.37 103.50,209.60 C101.95,210.83 100.35,213.75 98.80,216.00 C97.25,218.25 95.73,221.08 94.20,223.10 C92.67,225.12 90.82,227.20 89.60,228.10 C88.38,229.00 87.35,228.43 86.90,228.50" fill="none" stroke="#383c6c" stroke-width="0.8"/></g>
<path d="M87.00,226.50 C88.20,225.67 92.23,223.48 94.20,221.50 C96.17,219.52 97.25,216.75 98.80,214.60 C100.35,212.45 101.95,209.73 103.50,208.60 C105.05,207.47 106.05,207.72 108.10,207.80 C110.15,207.88 112.98,208.32 115.80,209.10 C118.62,209.88 122.58,209.88 125.00,212.50 C127.42,215.12 128.97,218.55 130.30,224.80 C131.63,231.05 132.12,240.05 133.00,250.00 C133.88,259.95 135.17,278.75 135.60,284.50" fill="none" stroke="#3a4a88" stroke-width="0.6" clip-path="url(#cb1)" />
<g clip-path="url(#cb1)"><path d="M87.30,231.20 C88.20,231.38 90.78,231.87 92.70,232.30 C94.62,232.73 96.75,233.80 98.80,233.80 C100.85,233.80 102.82,233.32 105.00,232.30 C107.18,231.28 109.72,229.23 111.90,227.70 C114.08,226.17 116.30,224.32 118.10,223.10 C119.90,221.88 121.55,221.15 122.70,220.40 C123.85,219.65 124.20,218.83 125.00,218.60 C125.80,218.37 126.80,218.52 127.50,219.00 C128.20,219.48 128.65,218.83 129.20,221.50 C129.75,224.17 129.97,224.50 130.80,235.00 C131.63,245.50 133.63,276.25 134.20,284.50 L125.20,284.50 C124.90,277.08 123.87,249.58 123.40,240.00 C122.93,230.42 122.72,229.47 122.40,227.00 C122.08,224.53 122.22,225.08 121.50,225.20 C120.78,225.32 119.70,226.52 118.10,227.70 C116.50,228.88 114.08,230.77 111.90,232.30 C109.72,233.83 107.18,235.90 105.00,236.90 C102.82,237.90 100.85,238.32 98.80,238.30 C96.75,238.28 94.62,237.42 92.70,236.80 C90.78,236.18 88.20,234.97 87.30,234.60 Z" fill="#c6e3e3" stroke="none"/>
<path d="M87.30,231.20 C88.20,231.38 90.78,231.87 92.70,232.30 C94.62,232.73 96.75,233.80 98.80,233.80 C100.85,233.80 102.82,233.32 105.00,232.30 C107.18,231.28 109.72,229.23 111.90,227.70 C114.08,226.17 116.30,224.32 118.10,223.10 C119.90,221.88 121.55,221.15 122.70,220.40 C123.85,219.65 124.20,218.83 125.00,218.60 C125.80,218.37 126.80,218.52 127.50,219.00 C128.20,219.48 128.65,218.83 129.20,221.50 C129.75,224.17 129.97,224.50 130.80,235.00 C131.63,245.50 133.63,276.25 134.20,284.50" fill="none" stroke="#4a7e80" stroke-width="0.7"/>
<path d="M125.20,284.50 C124.90,277.08 123.87,249.58 123.40,240.00 C122.93,230.42 122.72,229.47 122.40,227.00 C122.08,224.53 122.22,225.08 121.50,225.20 C120.78,225.32 119.70,226.52 118.10,227.70 C116.50,228.88 114.08,230.77 111.90,232.30 C109.72,233.83 107.18,235.90 105.00,236.90 C102.82,237.90 100.85,238.32 98.80,238.30 C96.75,238.28 94.62,237.42 92.70,236.80 C90.78,236.18 88.20,234.97 87.30,234.60" fill="none" stroke="#4a7e80" stroke-width="0.7"/></g>
<path d="M87.30,232.90 C89.22,233.42 95.85,235.72 98.80,236.00 C101.75,236.28 102.82,235.60 105.00,234.60 C107.18,233.60 109.72,231.53 111.90,230.00 C114.08,228.47 116.45,226.60 118.10,225.40 C119.75,224.20 121.18,223.23 121.80,222.80" fill="none" stroke="#3a9a9a" stroke-width="0.6" clip-path="url(#cb1)" />
<g clip-path="url(#cb1)"><path d="M87.30,228.00 C88.20,227.95 90.52,228.50 92.70,227.70 C94.88,226.90 97.83,224.82 100.40,223.20 C102.97,221.58 105.53,219.63 108.10,218.00 C110.67,216.37 113.62,214.43 115.80,213.40 C117.98,212.37 119.42,212.02 121.20,211.80 C122.98,211.58 124.75,211.75 126.50,212.10 C128.25,212.45 130.20,213.05 131.70,213.90 C133.20,214.75 134.37,216.12 135.50,217.20 C136.63,218.28 137.53,220.03 138.50,220.40 C139.47,220.77 140.83,219.57 141.30,219.40 L141.30,221.20 C140.83,221.37 139.47,222.57 138.50,222.20 C137.53,221.83 136.63,220.10 135.50,219.00 C134.37,217.90 133.20,216.47 131.70,215.60 C130.20,214.73 128.25,214.15 126.50,213.80 C124.75,213.45 122.98,213.30 121.20,213.50 C119.42,213.70 117.98,213.97 115.80,215.00 C113.62,216.03 110.67,218.05 108.10,219.70 C105.53,221.35 102.97,223.28 100.40,224.90 C97.83,226.52 94.88,228.58 92.70,229.40 C90.52,230.22 88.20,229.73 87.30,229.80 Z" fill="#f0d6de" stroke="none"/>
<path d="M87.30,228.00 C88.20,227.95 90.52,228.50 92.70,227.70 C94.88,226.90 97.83,224.82 100.40,223.20 C102.97,221.58 105.53,219.63 108.10,218.00 C110.67,216.37 113.62,214.43 115.80,213.40 C117.98,212.37 119.42,212.02 121.20,211.80 C122.98,211.58 124.75,211.75 126.50,212.10 C128.25,212.45 130.20,213.05 131.70,213.90 C133.20,214.75 134.37,216.12 135.50,217.20 C136.63,218.28 137.53,220.03 138.50,220.40 C139.47,220.77 140.83,219.57 141.30,219.40" fill="none" stroke="#7a5664" stroke-width="0.65"/>
<path d="M141.30,221.20 C140.83,221.37 139.47,222.57 138.50,222.20 C137.53,221.83 136.63,220.10 135.50,219.00 C134.37,217.90 133.20,216.47 131.70,215.60 C130.20,214.73 128.25,214.15 126.50,213.80 C124.75,213.45 122.98,213.30 121.20,213.50 C119.42,213.70 117.98,213.97 115.80,215.00 C113.62,216.03 110.67,218.05 108.10,219.70 C105.53,221.35 102.97,223.28 100.40,224.90 C97.83,226.52 94.88,228.58 92.70,229.40 C90.52,230.22 88.20,229.73 87.30,229.80" fill="none" stroke="#7a5664" stroke-width="0.65"/></g>
<path clip-path="url(#cb1)" d="M133.5,214.5 C135.5,213.5 137.5,211.5 138.6,209 C139.8,205 140.4,199 140.9,186 L141.3,221.5 C140,221.8 138.6,221.6 137.5,220.6 C136,219.2 134.8,216.5 133.5,214.5 Z" fill="#cbc2e2" stroke="#4a3e78" stroke-width="0.7"/>
<g clip-path="url(#cb2)"><path d="M294.90,241.00 C295.20,239.87 296.00,236.37 296.70,234.20 C297.40,232.03 298.22,229.68 299.10,228.00 C299.98,226.32 301.03,224.98 302.00,224.10 C302.97,223.22 303.93,222.80 304.90,222.70 C305.87,222.60 306.75,223.10 307.80,223.50 C308.85,223.90 309.83,224.75 311.20,225.10 C312.57,225.45 314.40,225.37 316.00,225.60 C317.60,225.83 319.20,225.87 320.80,226.50 C322.40,227.13 324.00,228.27 325.60,229.40 C327.20,230.53 329.20,232.50 330.40,233.30 C331.60,234.10 331.83,234.37 332.80,234.20 C333.77,234.03 335.00,233.33 336.20,232.30 C337.40,231.27 338.77,229.38 340.00,228.00 C341.23,226.62 343.00,224.67 343.60,224.00 L343.60,224.60 C343.00,225.25 341.23,227.13 340.00,228.50 C338.77,229.87 337.40,231.77 336.20,232.80 C335.00,233.83 333.77,234.50 332.80,234.70 C331.83,234.90 331.60,234.72 330.40,234.00 C329.20,233.28 327.20,231.57 325.60,230.40 C324.00,229.23 322.40,227.72 320.80,227.00 C319.20,226.28 317.60,226.22 316.00,226.10 C314.40,225.98 312.65,226.07 311.20,226.30 C309.75,226.53 308.43,226.98 307.30,227.50 C306.17,228.02 305.28,228.28 304.40,229.40 C303.52,230.52 302.80,232.27 302.00,234.20 C301.20,236.13 300.32,238.75 299.60,241.00 C298.88,243.25 298.48,246.10 297.70,247.70 C296.92,249.30 295.37,250.12 294.90,250.60 Z" fill="#e6e4c8" stroke="none"/>
<path d="M294.90,241.00 C295.20,239.87 296.00,236.37 296.70,234.20 C297.40,232.03 298.22,229.68 299.10,228.00 C299.98,226.32 301.03,224.98 302.00,224.10 C302.97,223.22 303.93,222.80 304.90,222.70 C305.87,222.60 306.75,223.10 307.80,223.50 C308.85,223.90 309.83,224.75 311.20,225.10 C312.57,225.45 314.40,225.37 316.00,225.60 C317.60,225.83 319.20,225.87 320.80,226.50 C322.40,227.13 324.00,228.27 325.60,229.40 C327.20,230.53 329.20,232.50 330.40,233.30 C331.60,234.10 331.83,234.37 332.80,234.20 C333.77,234.03 335.00,233.33 336.20,232.30 C337.40,231.27 338.77,229.38 340.00,228.00 C341.23,226.62 343.00,224.67 343.60,224.00" fill="none" stroke="#4e4e2e" stroke-width="0.8"/>
<path d="M343.60,224.60 C343.00,225.25 341.23,227.13 340.00,228.50 C338.77,229.87 337.40,231.77 336.20,232.80 C335.00,233.83 333.77,234.50 332.80,234.70 C331.83,234.90 331.60,234.72 330.40,234.00 C329.20,233.28 327.20,231.57 325.60,230.40 C324.00,229.23 322.40,227.72 320.80,227.00 C319.20,226.28 317.60,226.22 316.00,226.10 C314.40,225.98 312.65,226.07 311.20,226.30 C309.75,226.53 308.43,226.98 307.30,227.50 C306.17,228.02 305.28,228.28 304.40,229.40 C303.52,230.52 302.80,232.27 302.00,234.20 C301.20,236.13 300.32,238.75 299.60,241.00 C298.88,243.25 298.48,246.10 297.70,247.70 C296.92,249.30 295.37,250.12 294.90,250.60" fill="none" stroke="#4e4e2e" stroke-width="0.8"/></g>
<path d="M295.30,243.80 C295.70,242.20 296.67,236.92 297.70,234.20 C298.73,231.48 300.22,229.02 301.50,227.50 C302.78,225.98 303.78,225.40 305.40,225.10 C307.02,224.80 309.43,225.58 311.20,225.70 C312.97,225.82 315.20,225.78 316.00,225.80" fill="none" stroke="#a0a060" stroke-width="0.6" clip-path="url(#cb2)" />
<path clip-path="url(#cb2)" d="M344.50,218.80 C345.00,217.97 346.17,216.52 347.50,213.80 C348.83,211.08 350.83,205.42 352.50,202.50 C354.17,199.58 355.42,197.47 357.50,196.30 C359.58,195.13 363.12,194.88 365.00,195.50 C366.88,196.12 367.55,197.58 368.80,200.00 C370.05,202.42 371.88,208.33 372.50,210.00 L375,215 L378.8,212.5 L382.5,210 L387.5,211.3 L391.3,208.8 L393.8,203.8 L397.5,180 L397.5,284.5 L367.5,284.5 L367.5,224 C366,219 364,211 362.5,206.3 C359,206 355,207 352.5,208.8 C349,214 347,220 344.5,225 Z" fill="#b6b3dd" stroke="none"/>
<path d="M344.50,218.80 C345.00,217.97 346.17,216.52 347.50,213.80 C348.83,211.08 350.83,205.42 352.50,202.50 C354.17,199.58 355.42,197.47 357.50,196.30 C359.58,195.13 363.12,194.88 365.00,195.50 C366.88,196.12 367.55,197.58 368.80,200.00 C370.05,202.42 371.88,208.33 372.50,210.00" fill="none" stroke="#46468a" stroke-width="0.8" clip-path="url(#cb2)" />
<path clip-path="url(#cb2)" d="M372.5,210 L375,215 L378.8,212.5 L382.5,210 L387.5,211.3 L391.3,208.8 L393.8,203.8 L397.5,180" fill="none" stroke="#46468a" stroke-width="0.8"/>
<path clip-path="url(#cb2)" d="M344.5,225 C347,220 349,214 352.5,208.8 C355,207 359,206 362.5,206.3 C364,211 366,219 367.5,224 L367.5,284.5" fill="none" stroke="#46468a" stroke-width="0.8"/>
<path clip-path="url(#cb2)" d="M375,235.5 L382.5,231.3 L388.8,223.8 L397.5,223.8 L397.5,284.5 L377.5,284.5 C377,260 376,245 375,235.5 Z" fill="#8fb0cc" fill-opacity="0.45"/>
<path clip-path="url(#cb2)" d="M391.3,201 L397.5,202.5 L397.5,224 L394.5,224 Z" fill="#d4a8d0" fill-opacity="0.6"/>
<path clip-path="url(#cb2)" d="M391.3,201 C393,210 394.5,220 395.2,240 L395.8,284.5" fill="none" stroke="#6a5a8a" stroke-width="0.6"/>
<g clip-path="url(#cb2)"><path d="M344.50,219.80 C346.25,219.83 352.00,220.80 355.00,220.00 C358.00,219.20 360.00,217.08 362.50,215.00 C365.00,212.92 367.50,210.20 370.00,207.50 C372.50,204.80 375.00,200.68 377.50,198.80 C380.00,196.92 382.70,196.20 385.00,196.20 C387.30,196.20 389.63,197.73 391.30,198.80 C392.97,199.87 393.97,202.15 395.00,202.60 C396.03,203.05 397.08,201.68 397.50,201.50 L397.50,204.50 C397.08,204.68 396.03,206.05 395.00,205.60 C393.97,205.15 392.97,202.87 391.30,201.80 C389.63,200.73 387.30,199.20 385.00,199.20 C382.70,199.20 380.00,199.92 377.50,201.80 C375.00,203.68 372.50,207.80 370.00,210.50 C367.50,213.20 365.00,215.92 362.50,218.00 C360.00,220.08 358.00,222.20 355.00,223.00 C352.00,223.80 346.25,222.83 344.50,222.80 Z" fill="#f0cad6" stroke="none"/>
<path d="M344.50,219.80 C346.25,219.83 352.00,220.80 355.00,220.00 C358.00,219.20 360.00,217.08 362.50,215.00 C365.00,212.92 367.50,210.20 370.00,207.50 C372.50,204.80 375.00,200.68 377.50,198.80 C380.00,196.92 382.70,196.20 385.00,196.20 C387.30,196.20 389.63,197.73 391.30,198.80 C392.97,199.87 393.97,202.15 395.00,202.60 C396.03,203.05 397.08,201.68 397.50,201.50" fill="none" stroke="#865868" stroke-width="0.7"/>
<path d="M397.50,204.50 C397.08,204.68 396.03,206.05 395.00,205.60 C393.97,205.15 392.97,202.87 391.30,201.80 C389.63,200.73 387.30,199.20 385.00,199.20 C382.70,199.20 380.00,199.92 377.50,201.80 C375.00,203.68 372.50,207.80 370.00,210.50 C367.50,213.20 365.00,215.92 362.50,218.00 C360.00,220.08 358.00,222.20 355.00,223.00 C352.00,223.80 346.25,222.83 344.50,222.80" fill="none" stroke="#865868" stroke-width="0.7"/></g>
<g clip-path="url(#cb2)"><path d="M344.50,230.00 C345.83,229.17 349.50,225.62 352.50,225.00 C355.50,224.38 359.58,225.38 362.50,226.30 C365.42,227.22 367.92,229.47 370.00,230.50 C372.08,231.53 373.33,232.67 375.00,232.50 C376.67,232.33 378.12,231.78 380.00,229.50 C381.88,227.22 384.22,220.38 386.30,218.80 C388.38,217.22 390.63,219.58 392.50,220.00 C394.37,220.42 396.67,221.08 397.50,221.30 L397.50,223.80 C396.67,223.75 393.95,223.50 392.50,223.50 C391.05,223.50 390.47,222.50 388.80,223.80 C387.13,225.10 384.80,229.35 382.50,231.30 C380.20,233.25 377.08,235.08 375.00,235.50 C372.92,235.92 372.08,234.72 370.00,233.80 C367.92,232.88 365.42,230.83 362.50,230.00 C359.58,229.17 355.50,228.17 352.50,228.80 C349.50,229.43 345.83,232.97 344.50,233.80 Z" fill="#a6d0d4" stroke="none"/>
<path d="M344.50,230.00 C345.83,229.17 349.50,225.62 352.50,225.00 C355.50,224.38 359.58,225.38 362.50,226.30 C365.42,227.22 367.92,229.47 370.00,230.50 C372.08,231.53 373.33,232.67 375.00,232.50 C376.67,232.33 378.12,231.78 380.00,229.50 C381.88,227.22 384.22,220.38 386.30,218.80 C388.38,217.22 390.63,219.58 392.50,220.00 C394.37,220.42 396.67,221.08 397.50,221.30" fill="none" stroke="#3a8a90" stroke-width="0.8"/>
<path d="M397.50,223.80 C396.67,223.75 393.95,223.50 392.50,223.50 C391.05,223.50 390.47,222.50 388.80,223.80 C387.13,225.10 384.80,229.35 382.50,231.30 C380.20,233.25 377.08,235.08 375.00,235.50 C372.92,235.92 372.08,234.72 370.00,233.80 C367.92,232.88 365.42,230.83 362.50,230.00 C359.58,229.17 355.50,228.17 352.50,228.80 C349.50,229.43 345.83,232.97 344.50,233.80" fill="none" stroke="#3a8a90" stroke-width="0.8"/></g>
<path d="M344.50,222.00 C345.20,220.33 347.28,214.83 348.70,212.00 C350.12,209.17 351.32,206.83 353.00,205.00 C354.68,203.17 356.87,201.58 358.80,201.00 C360.73,200.42 362.67,200.33 364.60,201.50 C366.53,202.67 369.03,204.92 370.40,208.00 C371.77,211.08 372.23,214.67 372.80,220.00 C373.37,225.33 373.22,229.25 373.80,240.00 C374.38,250.75 375.88,277.08 376.30,284.50" fill="none" stroke="#3c3c84" stroke-width="0.8" clip-path="url(#cb2)" />
<path d="M371.30,217.50 C372.08,221.25 374.33,228.83 376.00,240.00 C377.67,251.17 380.42,277.08 381.30,284.50" fill="none" stroke="#3a4a8a" stroke-width="0.7" clip-path="url(#cb2)" />
<path d="M344.50,231.90 C345.83,231.07 349.50,227.52 352.50,226.90 C355.50,226.28 359.58,227.32 362.50,228.20 C365.42,229.08 367.92,231.23 370.00,232.20 C372.08,233.17 373.17,234.30 375.00,234.00 C376.83,233.70 378.92,232.52 381.00,230.40 C383.08,228.28 384.75,222.62 387.50,221.30 C390.25,219.98 395.83,222.30 397.50,222.50" fill="none" stroke="#3a9a9a" stroke-width="0.6" clip-path="url(#cb2)" />
<text x="8.00" y="342.50" font-size="11.00" fill="#111" font-weight="bold" >C</text>
<text x="69.80" y="344.80" font-size="10.26" fill="#2a2a2a" stroke="#2a2a2a" stroke-width="0.08" textLength="52.00" lengthAdjust="spacingAndGlyphs" text-anchor="middle" >log(IκB<tspan baseline-shift="super" font-size="6">−</tspan>/WT</text>
<text x="71.20" y="355.20" font-size="10.26" fill="#2a2a2a" stroke="#2a2a2a" stroke-width="0.08" textLength="57.00" lengthAdjust="spacingAndGlyphs" text-anchor="middle" >Branch Ratio)</text>
<text x="171.80" y="343.6" font-size="8.8" fill="#2a2a2a" text-anchor="middle" textLength="63.5" lengthAdjust="spacingAndGlyphs">IκB<tspan baseline-shift="super" font-size="6">−</tspan> – WT <tspan fill="#a8a864">HSC</tspan></text>
<text x="171.80" y="355.00" font-size="10.26" fill="#2a2a2a" stroke="#2a2a2a" stroke-width="0.08" textLength="42.20" lengthAdjust="spacingAndGlyphs" text-anchor="middle" >Flux Func.</text>
<text x="256.90" y="343.6" font-size="8.8" fill="#2a2a2a" text-anchor="middle" textLength="63.7" lengthAdjust="spacingAndGlyphs">IκB<tspan baseline-shift="super" font-size="6">−</tspan> – WT <tspan fill="#eaa6ba">EMP</tspan></text>
<text x="256.90" y="355.00" font-size="10.26" fill="#2a2a2a" stroke="#2a2a2a" stroke-width="0.08" textLength="42.60" lengthAdjust="spacingAndGlyphs" text-anchor="middle" >Flux Func.</text>
<text x="342.40" y="343.6" font-size="8.8" fill="#2a2a2a" text-anchor="middle" textLength="62.7" lengthAdjust="spacingAndGlyphs">IκB<tspan baseline-shift="super" font-size="6">−</tspan> – WT <tspan fill="#4a4aa6">MyP</tspan></text>
<text x="342.40" y="355.00" font-size="10.26" fill="#2a2a2a" stroke="#2a2a2a" stroke-width="0.08" textLength="43.00" lengthAdjust="spacingAndGlyphs" text-anchor="middle" >Flux Func.</text>
<text x="428.70" y="343.6" font-size="8.8" fill="#2a2a2a" text-anchor="middle" textLength="60" lengthAdjust="spacingAndGlyphs">IκB<tspan baseline-shift="super" font-size="6">−</tspan> – WT <tspan fill="#48a8b4">LyP</tspan></text>
<text x="428.70" y="355.00" font-size="10.26" fill="#2a2a2a" stroke="#2a2a2a" stroke-width="0.08" textLength="43.80" lengthAdjust="spacingAndGlyphs" text-anchor="middle" >Flux Func.</text>
<rect x="34.60" y="360.30" width="72.70" height="73.50" fill="none" stroke="#222" stroke-width="1.0" />
<line x1="34.60" y1="396.50" x2="107.30" y2="396.50" stroke="#222" stroke-width="0.9" />
<line x1="32.00" y1="372.50" x2="34.60" y2="372.50" stroke="#222" stroke-width="0.9" />
<text x="29.60" y="375.40" font-size="8.79" fill="#2e2e2e" stroke="#2e2e2e" stroke-width="0.08" text-anchor="end" >1</text>
<line x1="32.00" y1="396.50" x2="34.60" y2="396.50" stroke="#222" stroke-width="0.9" />
<text x="29.60" y="399.40" font-size="8.79" fill="#2e2e2e" stroke="#2e2e2e" stroke-width="0.08" text-anchor="end" >0</text>
<line x1="32.00" y1="420.50" x2="34.60" y2="420.50" stroke="#222" stroke-width="0.9" />
<text x="29.60" y="423.40" font-size="8.79" fill="#2e2e2e" stroke="#2e2e2e" stroke-width="0.08" text-anchor="end" >−1</text>
<line x1="33.00" y1="360.50" x2="34.60" y2="360.50" stroke="#222" stroke-width="0.8" />
<line x1="33.00" y1="384.50" x2="34.60" y2="384.50" stroke="#222" stroke-width="0.8" />
<line x1="33.00" y1="408.50" x2="34.60" y2="408.50" stroke="#222" stroke-width="0.8" />
<line x1="33.00" y1="432.50" x2="34.60" y2="432.50" stroke="#222" stroke-width="0.8" />
<line x1="46.80" y1="433.80" x2="46.80" y2="436.30" stroke="#222" stroke-width="0.9" />
<line x1="71.00" y1="433.80" x2="71.00" y2="436.30" stroke="#222" stroke-width="0.9" />
<line x1="95.20" y1="433.80" x2="95.20" y2="436.30" stroke="#222" stroke-width="0.9" />
<text transform="translate(11.60,395.00) rotate(-90)" x="0" y="3.19" font-size="8.86" fill="#2a2a2a" text-anchor="middle" stroke="#2a2a2a" stroke-width="0.08" textLength="37.00" lengthAdjust="spacingAndGlyphs">Replicate 1</text>
<rect x="34.60" y="446.10" width="72.70" height="73.30" fill="none" stroke="#222" stroke-width="1.0" />
<line x1="34.60" y1="482.30" x2="107.30" y2="482.30" stroke="#222" stroke-width="0.9" />
<line x1="32.00" y1="457.80" x2="34.60" y2="457.80" stroke="#222" stroke-width="0.9" />
<text x="29.60" y="460.70" font-size="8.79" fill="#2e2e2e" stroke="#2e2e2e" stroke-width="0.08" text-anchor="end" >1</text>
<line x1="32.00" y1="482.30" x2="34.60" y2="482.30" stroke="#222" stroke-width="0.9" />
<text x="29.60" y="485.20" font-size="8.79" fill="#2e2e2e" stroke="#2e2e2e" stroke-width="0.08" text-anchor="end" >0</text>
<line x1="32.00" y1="506.80" x2="34.60" y2="506.80" stroke="#222" stroke-width="0.9" />
<text x="29.60" y="509.70" font-size="8.79" fill="#2e2e2e" stroke="#2e2e2e" stroke-width="0.08" text-anchor="end" >−1</text>
<line x1="33.00" y1="470.05" x2="34.60" y2="470.05" stroke="#222" stroke-width="0.8" />
<line x1="33.00" y1="494.55" x2="34.60" y2="494.55" stroke="#222" stroke-width="0.8" />
<line x1="33.00" y1="519.05" x2="34.60" y2="519.05" stroke="#222" stroke-width="0.8" />
<line x1="46.80" y1="519.40" x2="46.80" y2="521.90" stroke="#222" stroke-width="0.9" />
<line x1="71.00" y1="519.40" x2="71.00" y2="521.90" stroke="#222" stroke-width="0.9" />
<line x1="95.20" y1="519.40" x2="95.20" y2="521.90" stroke="#222" stroke-width="0.9" />
<text transform="translate(11.60,483.00) rotate(-90)" x="0" y="3.19" font-size="8.86" fill="#2a2a2a" text-anchor="middle" stroke="#2a2a2a" stroke-width="0.08" textLength="37.00" lengthAdjust="spacingAndGlyphs">Replicate 2</text>
<rect x="36.90" y="389.78" width="19.60" height="6.72" fill="#f0a4b4" stroke="none" stroke-width="1" />
<line x1="46.70" y1="384.98" x2="46.70" y2="394.34" stroke="#333" stroke-width="0.7" />
<rect x="61.20" y="393.14" width="19.60" height="3.36" fill="#2c2c8e" stroke="none" stroke-width="1" />
<line x1="71.00" y1="387.38" x2="71.00" y2="397.94" stroke="#333" stroke-width="0.7" />
<rect x="85.80" y="396.50" width="19.20" height="8.88" fill="#1d9294" stroke="none" stroke-width="1" />
<line x1="95.40" y1="399.38" x2="95.40" y2="410.42" stroke="#333" stroke-width="0.7" />
<line x1="34.60" y1="396.50" x2="107.30" y2="396.50" stroke="#222" stroke-width="0.9" />
<rect x="36.90" y="477.65" width="19.60" height="4.65" fill="#f0a4b4" stroke="none" stroke-width="1" />
<line x1="46.70" y1="474.22" x2="46.70" y2="481.56" stroke="#333" stroke-width="0.7" />
<rect x="61.20" y="470.79" width="19.60" height="11.51" fill="#2c2c8e" stroke="none" stroke-width="1" />
<line x1="71.00" y1="462.70" x2="71.00" y2="477.65" stroke="#333" stroke-width="0.7" />
<rect x="85.80" y="482.30" width="19.20" height="19.60" fill="#1d9294" stroke="none" stroke-width="1" />
<line x1="95.40" y1="495.78" x2="95.40" y2="508.27" stroke="#333" stroke-width="0.7" />
<line x1="34.60" y1="482.30" x2="107.30" y2="482.30" stroke="#222" stroke-width="0.9" />
<text x="38.80" y="532.00" font-size="9.02" fill="#eea4b6" stroke="#eea4b6" stroke-width="0.08" textLength="16.60" lengthAdjust="spacingAndGlyphs" >EMP</text>
<text x="62.80" y="532.00" font-size="9.02" fill="#34349a" stroke="#34349a" stroke-width="0.08" textLength="16.80" lengthAdjust="spacingAndGlyphs" >MyP</text>
<text x="88.80" y="532.00" font-size="9.02" fill="#2a9aa0" stroke="#2a9aa0" stroke-width="0.08" textLength="12.70" lengthAdjust="spacingAndGlyphs" >LyP</text>
<rect x="135.20" y="360.30" width="73.10" height="73.50" fill="none" stroke="#222" stroke-width="1.0" />
<line x1="132.60" y1="360.30" x2="135.20" y2="360.30" stroke="#222" stroke-width="0.9" />
<line x1="132.60" y1="376.48" x2="135.20" y2="376.48" stroke="#222" stroke-width="0.9" />
<line x1="132.60" y1="392.66" x2="135.20" y2="392.66" stroke="#222" stroke-width="0.9" />
<line x1="132.60" y1="408.84" x2="135.20" y2="408.84" stroke="#222" stroke-width="0.9" />
<line x1="132.60" y1="425.02" x2="135.20" y2="425.02" stroke="#222" stroke-width="0.9" />
<line x1="133.60" y1="368.39" x2="135.20" y2="368.39" stroke="#222" stroke-width="0.9" />
<line x1="133.60" y1="384.57" x2="135.20" y2="384.57" stroke="#222" stroke-width="0.9" />
<line x1="133.60" y1="400.75" x2="135.20" y2="400.75" stroke="#222" stroke-width="0.9" />
<line x1="133.60" y1="416.93" x2="135.20" y2="416.93" stroke="#222" stroke-width="0.9" />
<line x1="135.20" y1="433.80" x2="135.20" y2="436.20" stroke="#222" stroke-width="0.9" />
<line x1="144.34" y1="433.80" x2="144.34" y2="436.20" stroke="#222" stroke-width="0.9" />
<line x1="153.47" y1="433.80" x2="153.47" y2="436.20" stroke="#222" stroke-width="0.9" />
<line x1="162.61" y1="433.80" x2="162.61" y2="436.20" stroke="#222" stroke-width="0.9" />
<line x1="171.75" y1="433.80" x2="171.75" y2="436.20" stroke="#222" stroke-width="0.9" />
<line x1="180.89" y1="433.80" x2="180.89" y2="436.20" stroke="#222" stroke-width="0.9" />
<line x1="190.03" y1="433.80" x2="190.03" y2="436.20" stroke="#222" stroke-width="0.9" />
<line x1="199.16" y1="433.80" x2="199.16" y2="436.20" stroke="#222" stroke-width="0.9" />
<line x1="208.30" y1="433.80" x2="208.30" y2="436.20" stroke="#222" stroke-width="0.9" />
<text x="130.00" y="363.20" font-size="9.03" fill="#2e2e2e" stroke="#2e2e2e" stroke-width="0.08" text-anchor="end" >50</text>
<text x="130.00" y="379.38" font-size="9.03" fill="#2e2e2e" stroke="#2e2e2e" stroke-width="0.08" text-anchor="end" >30</text>
<text x="130.00" y="395.56" font-size="9.03" fill="#2e2e2e" stroke="#2e2e2e" stroke-width="0.08" text-anchor="end" >10</text>
<text x="130.00" y="411.74" font-size="9.03" fill="#2e2e2e" stroke="#2e2e2e" stroke-width="0.08" text-anchor="end" >−10</text>
<text x="130.00" y="427.92" font-size="9.03" fill="#2e2e2e" stroke="#2e2e2e" stroke-width="0.08" text-anchor="end" >−30</text>
<rect x="135.20" y="446.10" width="73.10" height="73.30" fill="none" stroke="#222" stroke-width="1.0" />
<line x1="132.60" y1="446.10" x2="135.20" y2="446.10" stroke="#222" stroke-width="0.9" />
<line x1="132.60" y1="462.28" x2="135.20" y2="462.28" stroke="#222" stroke-width="0.9" />
<line x1="132.60" y1="478.46" x2="135.20" y2="478.46" stroke="#222" stroke-width="0.9" />
<line x1="132.60" y1="494.64" x2="135.20" y2="494.64" stroke="#222" stroke-width="0.9" />
<line x1="132.60" y1="510.82" x2="135.20" y2="510.82" stroke="#222" stroke-width="0.9" />
<line x1="133.60" y1="454.19" x2="135.20" y2="454.19" stroke="#222" stroke-width="0.9" />
<line x1="133.60" y1="470.37" x2="135.20" y2="470.37" stroke="#222" stroke-width="0.9" />
<line x1="133.60" y1="486.55" x2="135.20" y2="486.55" stroke="#222" stroke-width="0.9" />
<line x1="133.60" y1="502.73" x2="135.20" y2="502.73" stroke="#222" stroke-width="0.9" />
<line x1="135.20" y1="519.40" x2="135.20" y2="521.80" stroke="#222" stroke-width="0.9" />
<line x1="144.34" y1="519.40" x2="144.34" y2="521.80" stroke="#222" stroke-width="0.9" />
<line x1="153.47" y1="519.40" x2="153.47" y2="521.80" stroke="#222" stroke-width="0.9" />
<line x1="162.61" y1="519.40" x2="162.61" y2="521.80" stroke="#222" stroke-width="0.9" />
<line x1="171.75" y1="519.40" x2="171.75" y2="521.80" stroke="#222" stroke-width="0.9" />
<line x1="180.89" y1="519.40" x2="180.89" y2="521.80" stroke="#222" stroke-width="0.9" />
<line x1="190.03" y1="519.40" x2="190.03" y2="521.80" stroke="#222" stroke-width="0.9" />
<line x1="199.16" y1="519.40" x2="199.16" y2="521.80" stroke="#222" stroke-width="0.9" />
<line x1="208.30" y1="519.40" x2="208.30" y2="521.80" stroke="#222" stroke-width="0.9" />
<text x="130.00" y="449.00" font-size="9.03" fill="#2e2e2e" stroke="#2e2e2e" stroke-width="0.08" text-anchor="end" >50</text>
<text x="130.00" y="465.18" font-size="9.03" fill="#2e2e2e" stroke="#2e2e2e" stroke-width="0.08" text-anchor="end" >30</text>
<text x="130.00" y="481.36" font-size="9.03" fill="#2e2e2e" stroke="#2e2e2e" stroke-width="0.08" text-anchor="end" >10</text>
<text x="130.00" y="497.54" font-size="9.03" fill="#2e2e2e" stroke="#2e2e2e" stroke-width="0.08" text-anchor="end" >−10</text>
<text x="130.00" y="513.72" font-size="9.03" fill="#2e2e2e" stroke="#2e2e2e" stroke-width="0.08" text-anchor="end" >−30</text>
<text x="135.20" y="532.40" font-size="9.09" fill="#2e2e2e" stroke="#2e2e2e" stroke-width="0.08" textLength="10.60" lengthAdjust="spacingAndGlyphs" text-anchor="middle" >0.0</text>
<text x="171.75" y="532.40" font-size="9.09" fill="#2e2e2e" stroke="#2e2e2e" stroke-width="0.08" textLength="10.60" lengthAdjust="spacingAndGlyphs" text-anchor="middle" >0.2</text>
<text x="208.30" y="532.40" font-size="9.09" fill="#2e2e2e" stroke="#2e2e2e" stroke-width="0.08" textLength="10.60" lengthAdjust="spacingAndGlyphs" text-anchor="middle" >0.4</text>
<text x="171.75" y="545.10" font-size="10.03" fill="#2e2e2e" stroke="#2e2e2e" stroke-width="0.08" textLength="40.00" lengthAdjust="spacingAndGlyphs" text-anchor="middle" >Pseudotime</text>
<rect x="220.40" y="360.30" width="73.00" height="73.50" fill="none" stroke="#222" stroke-width="1.0" />
<line x1="217.80" y1="360.30" x2="220.40" y2="360.30" stroke="#222" stroke-width="0.9" />
<line x1="217.80" y1="376.48" x2="220.40" y2="376.48" stroke="#222" stroke-width="0.9" />
<line x1="217.80" y1="392.66" x2="220.40" y2="392.66" stroke="#222" stroke-width="0.9" />
<line x1="217.80" y1="408.84" x2="220.40" y2="408.84" stroke="#222" stroke-width="0.9" />
<line x1="217.80" y1="425.02" x2="220.40" y2="425.02" stroke="#222" stroke-width="0.9" />
<line x1="218.80" y1="368.39" x2="220.40" y2="368.39" stroke="#222" stroke-width="0.9" />
<line x1="218.80" y1="384.57" x2="220.40" y2="384.57" stroke="#222" stroke-width="0.9" />
<line x1="218.80" y1="400.75" x2="220.40" y2="400.75" stroke="#222" stroke-width="0.9" />
<line x1="218.80" y1="416.93" x2="220.40" y2="416.93" stroke="#222" stroke-width="0.9" />
<line x1="220.40" y1="433.80" x2="220.40" y2="436.20" stroke="#222" stroke-width="0.9" />
<line x1="228.51" y1="433.80" x2="228.51" y2="436.20" stroke="#222" stroke-width="0.9" />
<line x1="236.62" y1="433.80" x2="236.62" y2="436.20" stroke="#222" stroke-width="0.9" />
<line x1="244.73" y1="433.80" x2="244.73" y2="436.20" stroke="#222" stroke-width="0.9" />
<line x1="252.84" y1="433.80" x2="252.84" y2="436.20" stroke="#222" stroke-width="0.9" />
<line x1="260.96" y1="433.80" x2="260.96" y2="436.20" stroke="#222" stroke-width="0.9" />
<line x1="269.07" y1="433.80" x2="269.07" y2="436.20" stroke="#222" stroke-width="0.9" />
<line x1="277.18" y1="433.80" x2="277.18" y2="436.20" stroke="#222" stroke-width="0.9" />
<line x1="285.29" y1="433.80" x2="285.29" y2="436.20" stroke="#222" stroke-width="0.9" />
<line x1="293.40" y1="433.80" x2="293.40" y2="436.20" stroke="#222" stroke-width="0.9" />
<rect x="220.40" y="446.10" width="73.00" height="73.30" fill="none" stroke="#222" stroke-width="1.0" />
<line x1="217.80" y1="446.10" x2="220.40" y2="446.10" stroke="#222" stroke-width="0.9" />
<line x1="217.80" y1="462.28" x2="220.40" y2="462.28" stroke="#222" stroke-width="0.9" />
<line x1="217.80" y1="478.46" x2="220.40" y2="478.46" stroke="#222" stroke-width="0.9" />
<line x1="217.80" y1="494.64" x2="220.40" y2="494.64" stroke="#222" stroke-width="0.9" />
<line x1="217.80" y1="510.82" x2="220.40" y2="510.82" stroke="#222" stroke-width="0.9" />
<line x1="218.80" y1="454.19" x2="220.40" y2="454.19" stroke="#222" stroke-width="0.9" />
<line x1="218.80" y1="470.37" x2="220.40" y2="470.37" stroke="#222" stroke-width="0.9" />
<line x1="218.80" y1="486.55" x2="220.40" y2="486.55" stroke="#222" stroke-width="0.9" />
<line x1="218.80" y1="502.73" x2="220.40" y2="502.73" stroke="#222" stroke-width="0.9" />
<line x1="220.40" y1="519.40" x2="220.40" y2="521.80" stroke="#222" stroke-width="0.9" />
<line x1="228.51" y1="519.40" x2="228.51" y2="521.80" stroke="#222" stroke-width="0.9" />
<line x1="236.62" y1="519.40" x2="236.62" y2="521.80" stroke="#222" stroke-width="0.9" />
<line x1="244.73" y1="519.40" x2="244.73" y2="521.80" stroke="#222" stroke-width="0.9" />
<line x1="252.84" y1="519.40" x2="252.84" y2="521.80" stroke="#222" stroke-width="0.9" />
<line x1="260.96" y1="519.40" x2="260.96" y2="521.80" stroke="#222" stroke-width="0.9" />
<line x1="269.07" y1="519.40" x2="269.07" y2="521.80" stroke="#222" stroke-width="0.9" />
<line x1="277.18" y1="519.40" x2="277.18" y2="521.80" stroke="#222" stroke-width="0.9" />
<line x1="285.29" y1="519.40" x2="285.29" y2="521.80" stroke="#222" stroke-width="0.9" />
<line x1="293.40" y1="519.40" x2="293.40" y2="521.80" stroke="#222" stroke-width="0.9" />
<text x="228.51" y="532.40" font-size="9.09" fill="#2e2e2e" stroke="#2e2e2e" stroke-width="0.08" textLength="10.60" lengthAdjust="spacingAndGlyphs" text-anchor="middle" >0.4</text>
<text x="260.96" y="532.40" font-size="9.09" fill="#2e2e2e" stroke="#2e2e2e" stroke-width="0.08" textLength="10.60" lengthAdjust="spacingAndGlyphs" text-anchor="middle" >0.6</text>
<text x="293.40" y="532.40" font-size="9.09" fill="#2e2e2e" stroke="#2e2e2e" stroke-width="0.08" textLength="10.60" lengthAdjust="spacingAndGlyphs" text-anchor="middle" >0.8</text>
<text x="256.90" y="545.10" font-size="10.03" fill="#2e2e2e" stroke="#2e2e2e" stroke-width="0.08" textLength="40.00" lengthAdjust="spacingAndGlyphs" text-anchor="middle" >Pseudotime</text>
<rect x="306.40" y="360.30" width="72.80" height="73.50" fill="none" stroke="#222" stroke-width="1.0" />
<line x1="303.80" y1="360.30" x2="306.40" y2="360.30" stroke="#222" stroke-width="0.9" />
<line x1="303.80" y1="376.48" x2="306.40" y2="376.48" stroke="#222" stroke-width="0.9" />
<line x1="303.80" y1="392.66" x2="306.40" y2="392.66" stroke="#222" stroke-width="0.9" />
<line x1="303.80" y1="408.84" x2="306.40" y2="408.84" stroke="#222" stroke-width="0.9" />
<line x1="303.80" y1="425.02" x2="306.40" y2="425.02" stroke="#222" stroke-width="0.9" />
<line x1="304.80" y1="368.39" x2="306.40" y2="368.39" stroke="#222" stroke-width="0.9" />
<line x1="304.80" y1="384.57" x2="306.40" y2="384.57" stroke="#222" stroke-width="0.9" />
<line x1="304.80" y1="400.75" x2="306.40" y2="400.75" stroke="#222" stroke-width="0.9" />
<line x1="304.80" y1="416.93" x2="306.40" y2="416.93" stroke="#222" stroke-width="0.9" />
<line x1="306.40" y1="433.80" x2="306.40" y2="436.20" stroke="#222" stroke-width="0.9" />
<line x1="314.49" y1="433.80" x2="314.49" y2="436.20" stroke="#222" stroke-width="0.9" />
<line x1="322.58" y1="433.80" x2="322.58" y2="436.20" stroke="#222" stroke-width="0.9" />
<line x1="330.67" y1="433.80" x2="330.67" y2="436.20" stroke="#222" stroke-width="0.9" />
<line x1="338.76" y1="433.80" x2="338.76" y2="436.20" stroke="#222" stroke-width="0.9" />
<line x1="346.84" y1="433.80" x2="346.84" y2="436.20" stroke="#222" stroke-width="0.9" />
<line x1="354.93" y1="433.80" x2="354.93" y2="436.20" stroke="#222" stroke-width="0.9" />
<line x1="363.02" y1="433.80" x2="363.02" y2="436.20" stroke="#222" stroke-width="0.9" />
<line x1="371.11" y1="433.80" x2="371.11" y2="436.20" stroke="#222" stroke-width="0.9" />
<line x1="379.20" y1="433.80" x2="379.20" y2="436.20" stroke="#222" stroke-width="0.9" />
<rect x="306.40" y="446.10" width="72.80" height="73.30" fill="none" stroke="#222" stroke-width="1.0" />
<line x1="303.80" y1="446.10" x2="306.40" y2="446.10" stroke="#222" stroke-width="0.9" />
<line x1="303.80" y1="462.28" x2="306.40" y2="462.28" stroke="#222" stroke-width="0.9" />
<line x1="303.80" y1="478.46" x2="306.40" y2="478.46" stroke="#222" stroke-width="0.9" />
<line x1="303.80" y1="494.64" x2="306.40" y2="494.64" stroke="#222" stroke-width="0.9" />
<line x1="303.80" y1="510.82" x2="306.40" y2="510.82" stroke="#222" stroke-width="0.9" />
<line x1="304.80" y1="454.19" x2="306.40" y2="454.19" stroke="#222" stroke-width="0.9" />
<line x1="304.80" y1="470.37" x2="306.40" y2="470.37" stroke="#222" stroke-width="0.9" />
<line x1="304.80" y1="486.55" x2="306.40" y2="486.55" stroke="#222" stroke-width="0.9" />
<line x1="304.80" y1="502.73" x2="306.40" y2="502.73" stroke="#222" stroke-width="0.9" />
<line x1="306.40" y1="519.40" x2="306.40" y2="521.80" stroke="#222" stroke-width="0.9" />
<line x1="314.49" y1="519.40" x2="314.49" y2="521.80" stroke="#222" stroke-width="0.9" />
<line x1="322.58" y1="519.40" x2="322.58" y2="521.80" stroke="#222" stroke-width="0.9" />
<line x1="330.67" y1="519.40" x2="330.67" y2="521.80" stroke="#222" stroke-width="0.9" />
<line x1="338.76" y1="519.40" x2="338.76" y2="521.80" stroke="#222" stroke-width="0.9" />
<line x1="346.84" y1="519.40" x2="346.84" y2="521.80" stroke="#222" stroke-width="0.9" />
<line x1="354.93" y1="519.40" x2="354.93" y2="521.80" stroke="#222" stroke-width="0.9" />
<line x1="363.02" y1="519.40" x2="363.02" y2="521.80" stroke="#222" stroke-width="0.9" />
<line x1="371.11" y1="519.40" x2="371.11" y2="521.80" stroke="#222" stroke-width="0.9" />
<line x1="379.20" y1="519.40" x2="379.20" y2="521.80" stroke="#222" stroke-width="0.9" />
<text x="314.49" y="532.40" font-size="9.09" fill="#2e2e2e" stroke="#2e2e2e" stroke-width="0.08" textLength="10.60" lengthAdjust="spacingAndGlyphs" text-anchor="middle" >0.4</text>
<text x="346.84" y="532.40" font-size="9.09" fill="#2e2e2e" stroke="#2e2e2e" stroke-width="0.08" textLength="10.60" lengthAdjust="spacingAndGlyphs" text-anchor="middle" >0.6</text>
<text x="379.20" y="532.40" font-size="9.09" fill="#2e2e2e" stroke="#2e2e2e" stroke-width="0.08" textLength="10.60" lengthAdjust="spacingAndGlyphs" text-anchor="middle" >0.8</text>
<text x="342.80" y="545.10" font-size="10.03" fill="#2e2e2e" stroke="#2e2e2e" stroke-width="0.08" textLength="40.00" lengthAdjust="spacingAndGlyphs" text-anchor="middle" >Pseudotime</text>
<rect x="392.00" y="360.30" width="73.20" height="73.50" fill="none" stroke="#222" stroke-width="1.0" />
<line x1="389.40" y1="360.30" x2="392.00" y2="360.30" stroke="#222" stroke-width="0.9" />
<line x1="389.40" y1="376.48" x2="392.00" y2="376.48" stroke="#222" stroke-width="0.9" />
<line x1="389.40" y1="392.66" x2="392.00" y2="392.66" stroke="#222" stroke-width="0.9" />
<line x1="389.40" y1="408.84" x2="392.00" y2="408.84" stroke="#222" stroke-width="0.9" />
<line x1="389.40" y1="425.02" x2="392.00" y2="425.02" stroke="#222" stroke-width="0.9" />
<line x1="390.40" y1="368.39" x2="392.00" y2="368.39" stroke="#222" stroke-width="0.9" />
<line x1="390.40" y1="384.57" x2="392.00" y2="384.57" stroke="#222" stroke-width="0.9" />
<line x1="390.40" y1="400.75" x2="392.00" y2="400.75" stroke="#222" stroke-width="0.9" />
<line x1="390.40" y1="416.93" x2="392.00" y2="416.93" stroke="#222" stroke-width="0.9" />
<line x1="392.00" y1="433.80" x2="392.00" y2="436.20" stroke="#222" stroke-width="0.9" />
<line x1="400.13" y1="433.80" x2="400.13" y2="436.20" stroke="#222" stroke-width="0.9" />
<line x1="408.27" y1="433.80" x2="408.27" y2="436.20" stroke="#222" stroke-width="0.9" />
<line x1="416.40" y1="433.80" x2="416.40" y2="436.20" stroke="#222" stroke-width="0.9" />
<line x1="424.53" y1="433.80" x2="424.53" y2="436.20" stroke="#222" stroke-width="0.9" />
<line x1="432.67" y1="433.80" x2="432.67" y2="436.20" stroke="#222" stroke-width="0.9" />
<line x1="440.80" y1="433.80" x2="440.80" y2="436.20" stroke="#222" stroke-width="0.9" />
<line x1="448.93" y1="433.80" x2="448.93" y2="436.20" stroke="#222" stroke-width="0.9" />
<line x1="457.07" y1="433.80" x2="457.07" y2="436.20" stroke="#222" stroke-width="0.9" />
<line x1="465.20" y1="433.80" x2="465.20" y2="436.20" stroke="#222" stroke-width="0.9" />
<rect x="392.00" y="446.10" width="73.20" height="73.30" fill="none" stroke="#222" stroke-width="1.0" />
<line x1="389.40" y1="446.10" x2="392.00" y2="446.10" stroke="#222" stroke-width="0.9" />
<line x1="389.40" y1="462.28" x2="392.00" y2="462.28" stroke="#222" stroke-width="0.9" />
<line x1="389.40" y1="478.46" x2="392.00" y2="478.46" stroke="#222" stroke-width="0.9" />
<line x1="389.40" y1="494.64" x2="392.00" y2="494.64" stroke="#222" stroke-width="0.9" />
<line x1="389.40" y1="510.82" x2="392.00" y2="510.82" stroke="#222" stroke-width="0.9" />
<line x1="390.40" y1="454.19" x2="392.00" y2="454.19" stroke="#222" stroke-width="0.9" />
<line x1="390.40" y1="470.37" x2="392.00" y2="470.37" stroke="#222" stroke-width="0.9" />
<line x1="390.40" y1="486.55" x2="392.00" y2="486.55" stroke="#222" stroke-width="0.9" />
<line x1="390.40" y1="502.73" x2="392.00" y2="502.73" stroke="#222" stroke-width="0.9" />
<line x1="392.00" y1="519.40" x2="392.00" y2="521.80" stroke="#222" stroke-width="0.9" />
<line x1="400.13" y1="519.40" x2="400.13" y2="521.80" stroke="#222" stroke-width="0.9" />
<line x1="408.27" y1="519.40" x2="408.27" y2="521.80" stroke="#222" stroke-width="0.9" />
<line x1="416.40" y1="519.40" x2="416.40" y2="521.80" stroke="#222" stroke-width="0.9" />
<line x1="424.53" y1="519.40" x2="424.53" y2="521.80" stroke="#222" stroke-width="0.9" />
<line x1="432.67" y1="519.40" x2="432.67" y2="521.80" stroke="#222" stroke-width="0.9" />
<line x1="440.80" y1="519.40" x2="440.80" y2="521.80" stroke="#222" stroke-width="0.9" />
<line x1="448.93" y1="519.40" x2="448.93" y2="521.80" stroke="#222" stroke-width="0.9" />
<line x1="457.07" y1="519.40" x2="457.07" y2="521.80" stroke="#222" stroke-width="0.9" />
<line x1="465.20" y1="519.40" x2="465.20" y2="521.80" stroke="#222" stroke-width="0.9" />
<text x="400.13" y="532.40" font-size="9.09" fill="#2e2e2e" stroke="#2e2e2e" stroke-width="0.08" textLength="10.60" lengthAdjust="spacingAndGlyphs" text-anchor="middle" >0.4</text>
<text x="432.67" y="532.40" font-size="9.09" fill="#2e2e2e" stroke="#2e2e2e" stroke-width="0.08" textLength="10.60" lengthAdjust="spacingAndGlyphs" text-anchor="middle" >0.6</text>
<text x="465.20" y="532.40" font-size="9.09" fill="#2e2e2e" stroke="#2e2e2e" stroke-width="0.08" textLength="10.60" lengthAdjust="spacingAndGlyphs" text-anchor="middle" >0.8</text>
<text x="428.60" y="545.10" font-size="10.03" fill="#2e2e2e" stroke="#2e2e2e" stroke-width="0.08" textLength="40.00" lengthAdjust="spacingAndGlyphs" text-anchor="middle" >Pseudotime</text>
<line x1="468.60" y1="477.20" x2="475.90" y2="477.20" stroke="#222" stroke-width="1.4" />
<text x="480.20" y="479.50" font-size="8.36" fill="#333" stroke="#333" stroke-width="0.08" textLength="24.20" lengthAdjust="spacingAndGlyphs" >median</text>
<rect x="468.60" y="486.00" width="6.00" height="5.60" fill="#bdbdbd" stroke="none" stroke-width="1" />
<text x="477.00" y="490.60" font-size="8.36" fill="#333" stroke="#333" stroke-width="0.08" textLength="28.70" lengthAdjust="spacingAndGlyphs" >max-min</text>
<g clip-path="url(#cf00)"><path d="M135.40,350.00 C135.88,351.83 137.15,357.47 138.30,361.00 C139.45,364.53 141.13,368.17 142.30,371.20 C143.47,374.23 144.12,377.93 145.30,379.20 C146.48,380.47 148.05,379.47 149.40,378.80 C150.75,378.13 152.05,375.63 153.40,375.20 C154.75,374.77 155.98,374.52 157.50,376.20 C159.02,377.88 160.65,381.27 162.50,385.30 C164.35,389.33 166.58,396.53 168.60,400.40 C170.62,404.27 172.75,406.98 174.60,408.50 C176.45,410.02 178.02,410.17 179.70,409.50 C181.38,408.83 182.85,407.18 184.70,404.50 C186.55,401.82 188.95,396.27 190.80,393.40 C192.65,390.53 194.28,388.15 195.80,387.30 C197.32,386.45 198.55,386.95 199.90,388.30 C201.25,389.65 203.23,394.22 203.90,395.40 L203.90,402.50 C203.23,400.63 201.25,393.50 199.90,391.30 C198.55,389.10 197.32,388.62 195.80,389.30 C194.28,389.98 192.65,392.37 190.80,395.40 C188.95,398.43 186.55,404.63 184.70,407.50 C182.85,410.37 181.38,411.93 179.70,412.60 C178.02,413.27 176.45,412.52 174.60,411.50 C172.75,410.48 170.62,408.00 168.60,406.50 C166.58,405.00 164.53,402.67 162.50,402.50 C160.47,402.33 158.42,404.50 156.40,405.50 C154.38,406.50 152.08,407.83 150.40,408.50 C148.72,409.17 147.65,408.65 146.30,409.50 C144.95,410.35 143.63,411.92 142.30,413.60 C140.97,415.28 139.30,416.42 138.30,419.60 C137.30,422.78 136.75,429.97 136.30,432.70 C135.85,435.43 135.72,435.45 135.60,436.00 Z" fill="#e4e3ca" stroke="none"/>
<path d="M135.40,350.00 C135.88,351.83 137.15,357.47 138.30,361.00 C139.45,364.53 141.13,368.17 142.30,371.20 C143.47,374.23 144.12,377.93 145.30,379.20 C146.48,380.47 148.05,379.47 149.40,378.80 C150.75,378.13 152.05,375.63 153.40,375.20 C154.75,374.77 155.98,374.52 157.50,376.20 C159.02,377.88 160.65,381.27 162.50,385.30 C164.35,389.33 166.58,396.53 168.60,400.40 C170.62,404.27 172.75,406.98 174.60,408.50 C176.45,410.02 178.02,410.17 179.70,409.50 C181.38,408.83 182.85,407.18 184.70,404.50 C186.55,401.82 188.95,396.27 190.80,393.40 C192.65,390.53 194.28,388.15 195.80,387.30 C197.32,386.45 198.55,386.95 199.90,388.30 C201.25,389.65 203.23,394.22 203.90,395.40" fill="none" stroke="#4c4c2c" stroke-width="0.8"/>
<path d="M135.60,436.00 C135.72,435.45 135.85,435.43 136.30,432.70 C136.75,429.97 137.30,422.78 138.30,419.60 C139.30,416.42 140.97,415.28 142.30,413.60 C143.63,411.92 144.95,410.35 146.30,409.50 C147.65,408.65 148.72,409.17 150.40,408.50 C152.08,407.83 154.38,406.50 156.40,405.50 C158.42,404.50 160.47,402.33 162.50,402.50 C164.53,402.67 166.58,405.00 168.60,406.50 C170.62,408.00 172.75,410.48 174.60,411.50 C176.45,412.52 178.02,413.27 179.70,412.60 C181.38,411.93 182.85,410.37 184.70,407.50 C186.55,404.63 188.95,398.43 190.80,395.40 C192.65,392.37 194.28,389.98 195.80,389.30 C197.32,388.62 198.55,389.10 199.90,391.30 C201.25,393.50 203.23,400.63 203.90,402.50" fill="none" stroke="#4c4c2c" stroke-width="0.8"/>
<path d="M135.40,390.00 C136.22,389.38 137.80,386.08 140.30,386.30 C142.80,386.52 146.70,389.28 150.40,391.30 C154.10,393.32 159.47,396.20 162.50,398.40 C165.53,400.60 166.58,402.57 168.60,404.50 C170.62,406.43 172.75,408.92 174.60,410.00 C176.45,411.08 178.02,411.67 179.70,411.00 C181.38,410.33 182.85,408.77 184.70,406.00 C186.55,403.23 188.78,397.35 190.80,394.40 C192.82,391.45 194.62,387.53 196.80,388.30 C198.98,389.07 202.72,397.22 203.90,399.00" fill="none" stroke="#a4a45c" stroke-width="0.8"/>
</g>
<path clip-path="url(#cf00)" d="M135.2,360 L139,360 L138,425 L135.2,434 Z" fill="#e4e3ca"/>
<g clip-path="url(#cf01)"><path d="M135.50,446.00 C135.63,446.08 135.17,446.48 136.30,446.50 C137.43,446.52 140.63,445.15 142.30,446.10 C143.97,447.05 144.95,448.17 146.30,452.20 C147.65,456.23 148.88,465.25 150.40,470.30 C151.92,475.35 153.55,479.97 155.40,482.50 C157.25,485.03 159.47,484.83 161.50,485.50 C163.53,486.17 165.42,485.32 167.60,486.50 C169.78,487.68 172.42,491.25 174.60,492.60 C176.78,493.95 178.33,495.78 180.70,494.60 C183.07,493.42 186.12,489.20 188.80,485.50 C191.48,481.80 194.62,474.42 196.80,472.40 C198.98,470.38 200.72,472.40 201.90,473.40 C203.08,474.40 203.57,477.57 203.90,478.40 L203.90,480.40 C202.72,479.57 199.32,474.05 196.80,475.40 C194.28,476.75 191.48,484.97 188.80,488.50 C186.12,492.03 183.07,495.75 180.70,496.60 C178.33,497.45 176.78,494.95 174.60,493.60 C172.42,492.25 169.62,489.02 167.60,488.50 C165.58,487.98 164.18,489.58 162.50,490.50 C160.82,491.42 159.18,494.17 157.50,494.00 C155.82,493.83 154.08,491.93 152.40,489.50 C150.72,487.07 148.92,482.60 147.40,479.40 C145.88,476.20 144.48,472.32 143.30,470.30 C142.12,468.28 141.13,467.13 140.30,467.30 C139.47,467.47 138.80,469.18 138.30,471.30 C137.80,473.42 137.72,471.72 137.30,480.00 C136.88,488.28 136.05,514.17 135.80,521.00 Z" fill="#e4e3ca" stroke="none"/>
<path d="M135.50,446.00 C135.63,446.08 135.17,446.48 136.30,446.50 C137.43,446.52 140.63,445.15 142.30,446.10 C143.97,447.05 144.95,448.17 146.30,452.20 C147.65,456.23 148.88,465.25 150.40,470.30 C151.92,475.35 153.55,479.97 155.40,482.50 C157.25,485.03 159.47,484.83 161.50,485.50 C163.53,486.17 165.42,485.32 167.60,486.50 C169.78,487.68 172.42,491.25 174.60,492.60 C176.78,493.95 178.33,495.78 180.70,494.60 C183.07,493.42 186.12,489.20 188.80,485.50 C191.48,481.80 194.62,474.42 196.80,472.40 C198.98,470.38 200.72,472.40 201.90,473.40 C203.08,474.40 203.57,477.57 203.90,478.40" fill="none" stroke="#4c4c2c" stroke-width="0.8"/>
<path d="M135.80,521.00 C136.05,514.17 136.88,488.28 137.30,480.00 C137.72,471.72 137.80,473.42 138.30,471.30 C138.80,469.18 139.47,467.47 140.30,467.30 C141.13,467.13 142.12,468.28 143.30,470.30 C144.48,472.32 145.88,476.20 147.40,479.40 C148.92,482.60 150.72,487.07 152.40,489.50 C154.08,491.93 155.82,493.83 157.50,494.00 C159.18,494.17 160.82,491.42 162.50,490.50 C164.18,489.58 165.58,487.98 167.60,488.50 C169.62,489.02 172.42,492.25 174.60,493.60 C176.78,494.95 178.33,497.45 180.70,496.60 C183.07,495.75 186.12,492.03 188.80,488.50 C191.48,484.97 194.28,476.75 196.80,475.40 C199.32,474.05 202.72,479.57 203.90,480.40" fill="none" stroke="#4c4c2c" stroke-width="0.8"/>
<path d="M137.30,459.20 C137.80,458.80 138.97,455.45 140.30,456.80 C141.63,458.15 143.62,463.53 145.30,467.30 C146.98,471.07 148.20,476.03 150.40,479.40 C152.60,482.77 155.63,486.15 158.50,487.50 C161.37,488.85 164.92,486.58 167.60,487.50 C170.28,488.42 172.42,491.65 174.60,493.00 C176.78,494.35 178.33,496.60 180.70,495.60 C183.07,494.60 186.12,490.62 188.80,487.00 C191.48,483.38 194.28,475.17 196.80,473.90 C199.32,472.63 202.72,478.48 203.90,479.40" fill="none" stroke="#a4a45c" stroke-width="0.8"/>
</g>
<path clip-path="url(#cf01)" d="M135.2,446.1 L137,446.1 L137,470 L135.2,519 Z" fill="#e4e3ca"/>
<g clip-path="url(#cf10)"><path d="M226.10,396.00 C226.13,396.28 225.63,397.22 226.30,397.70 C226.97,398.18 228.28,399.47 230.10,398.90 C231.92,398.33 235.00,395.58 237.20,394.30 C239.40,393.02 241.12,391.72 243.30,391.20 C245.48,390.68 247.62,390.78 250.30,391.20 C252.98,391.62 256.20,392.53 259.40,393.70 C262.60,394.87 266.80,397.13 269.50,398.20 C272.20,399.27 273.58,399.00 275.60,400.10 C277.62,401.20 279.75,403.27 281.60,404.80 C283.45,406.33 284.73,408.87 286.70,409.30 C288.67,409.73 292.28,407.72 293.40,407.40 L293.40,436.00 L287.70,436.00 C287.37,432.65 286.72,420.60 285.70,415.90 C284.68,411.20 283.28,409.82 281.60,407.80 C279.92,405.78 277.95,404.88 275.60,403.80 C273.25,402.72 270.87,402.48 267.50,401.30 C264.13,400.12 259.10,397.55 255.40,396.70 C251.70,395.85 248.33,395.45 245.30,396.20 C242.27,396.95 239.90,399.50 237.20,401.20 C234.50,402.90 230.95,405.97 229.10,406.40 C227.25,406.83 226.60,404.23 226.10,403.80 Z" fill="#f8dee4" stroke="none"/>
<path d="M226.10,396.00 C226.13,396.28 225.63,397.22 226.30,397.70 C226.97,398.18 228.28,399.47 230.10,398.90 C231.92,398.33 235.00,395.58 237.20,394.30 C239.40,393.02 241.12,391.72 243.30,391.20 C245.48,390.68 247.62,390.78 250.30,391.20 C252.98,391.62 256.20,392.53 259.40,393.70 C262.60,394.87 266.80,397.13 269.50,398.20 C272.20,399.27 273.58,399.00 275.60,400.10 C277.62,401.20 279.75,403.27 281.60,404.80 C283.45,406.33 284.73,408.87 286.70,409.30 C288.67,409.73 292.28,407.72 293.40,407.40" fill="none" stroke="#6e3e50" stroke-width="0.8"/>
<path d="M226.10,403.80 C226.60,404.23 227.25,406.83 229.10,406.40 C230.95,405.97 234.50,402.90 237.20,401.20 C239.90,399.50 242.27,396.95 245.30,396.20 C248.33,395.45 251.70,395.85 255.40,396.70 C259.10,397.55 264.13,400.12 267.50,401.30 C270.87,402.48 273.25,402.72 275.60,403.80 C277.95,404.88 279.92,405.78 281.60,407.80 C283.28,409.82 284.68,411.20 285.70,415.90 C286.72,420.60 287.37,432.65 287.70,436.00" fill="none" stroke="#6e3e50" stroke-width="0.8"/>
<path d="M226.10,400.50 C227.95,400.05 234.00,398.95 237.20,397.80 C240.40,396.65 242.27,394.20 245.30,393.60 C248.33,393.00 251.70,393.17 255.40,394.20 C259.10,395.23 264.13,398.50 267.50,399.80 C270.87,401.10 273.25,400.92 275.60,402.00 C277.95,403.08 279.53,404.72 281.60,406.30 C283.67,407.88 286.03,410.22 288.00,411.50 C289.97,412.78 292.50,413.58 293.40,414.00" fill="none" stroke="#e49ab0" stroke-width="0.8"/>
</g>
<g clip-path="url(#cf11)"><path d="M226.10,474.50 C226.15,474.82 225.90,475.25 226.40,476.40 C226.90,477.55 227.80,479.88 229.10,481.40 C230.40,482.92 232.17,485.32 234.20,485.50 C236.23,485.68 238.78,484.18 241.30,482.50 C243.82,480.82 246.62,477.32 249.30,475.40 C251.98,473.48 255.03,471.50 257.40,471.00 C259.77,470.50 261.15,470.83 263.50,472.40 C265.85,473.97 268.82,477.72 271.50,480.40 C274.18,483.08 277.23,486.82 279.60,488.50 C281.97,490.18 284.02,490.83 285.70,490.50 C287.38,490.17 288.42,488.68 289.70,486.50 C290.98,484.32 292.78,478.92 293.40,477.40 L293.40,521.00 L284.70,521.00 C284.18,517.10 282.78,502.52 281.60,497.60 C280.42,492.68 279.28,493.85 277.60,491.50 C275.92,489.15 273.85,486.18 271.50,483.50 C269.15,480.82 265.85,476.92 263.50,475.40 C261.15,473.88 259.43,474.07 257.40,474.40 C255.37,474.73 253.65,475.55 251.30,477.40 C248.95,479.25 245.98,483.48 243.30,485.50 C240.62,487.52 237.40,489.23 235.20,489.50 C233.00,489.77 231.62,488.45 230.10,487.10 C228.58,485.75 226.77,482.35 226.10,481.40 Z" fill="#f8dee4" stroke="none"/>
<path d="M226.10,474.50 C226.15,474.82 225.90,475.25 226.40,476.40 C226.90,477.55 227.80,479.88 229.10,481.40 C230.40,482.92 232.17,485.32 234.20,485.50 C236.23,485.68 238.78,484.18 241.30,482.50 C243.82,480.82 246.62,477.32 249.30,475.40 C251.98,473.48 255.03,471.50 257.40,471.00 C259.77,470.50 261.15,470.83 263.50,472.40 C265.85,473.97 268.82,477.72 271.50,480.40 C274.18,483.08 277.23,486.82 279.60,488.50 C281.97,490.18 284.02,490.83 285.70,490.50 C287.38,490.17 288.42,488.68 289.70,486.50 C290.98,484.32 292.78,478.92 293.40,477.40" fill="none" stroke="#6e3e50" stroke-width="0.8"/>
<path d="M226.10,481.40 C226.77,482.35 228.58,485.75 230.10,487.10 C231.62,488.45 233.00,489.77 235.20,489.50 C237.40,489.23 240.62,487.52 243.30,485.50 C245.98,483.48 248.95,479.25 251.30,477.40 C253.65,475.55 255.37,474.73 257.40,474.40 C259.43,474.07 261.15,473.88 263.50,475.40 C265.85,476.92 269.15,480.82 271.50,483.50 C273.85,486.18 275.92,489.15 277.60,491.50 C279.28,493.85 280.42,492.68 281.60,497.60 C282.78,502.52 284.18,517.10 284.70,521.00" fill="none" stroke="#6e3e50" stroke-width="0.8"/>
<path d="M226.10,479.00 C227.08,480.00 230.48,483.58 232.00,485.00 C233.52,486.42 233.32,487.67 235.20,487.50 C237.08,487.33 240.62,485.85 243.30,484.00 C245.98,482.15 248.95,478.28 251.30,476.40 C253.65,474.52 255.37,473.10 257.40,472.70 C259.43,472.30 261.15,472.45 263.50,474.00 C265.85,475.55 268.82,479.33 271.50,482.00 C274.18,484.67 277.23,488.17 279.60,490.00 C281.97,491.83 283.40,493.25 285.70,493.00 C288.00,492.75 292.12,489.25 293.40,488.50" fill="none" stroke="#e49ab0" stroke-width="0.8"/>
</g>
<g clip-path="url(#cf20)"><path d="M311.10,394.00 C311.13,394.45 310.45,397.77 311.30,396.70 C312.15,395.63 314.38,390.30 316.20,387.60 C318.02,384.90 320.52,381.52 322.20,380.50 C323.88,379.48 324.62,379.98 326.30,381.50 C327.98,383.02 330.28,386.73 332.30,389.60 C334.32,392.47 336.38,396.68 338.40,398.70 C340.42,400.72 342.22,401.20 344.40,401.70 C346.58,402.20 349.13,401.18 351.50,401.70 C353.87,402.22 356.42,404.63 358.60,404.80 C360.78,404.97 362.75,405.23 364.60,402.70 C366.45,400.17 368.02,396.50 369.70,389.60 C371.38,382.70 373.73,367.57 374.70,361.30 C375.67,355.03 375.37,353.55 375.50,352.00 L380.00,352.00 L380.00,436.00 L364.60,436.00 C363.93,432.65 361.95,420.60 360.60,415.90 C359.25,411.20 358.18,409.65 356.50,407.80 C354.82,405.95 353.18,405.65 350.50,404.80 C347.82,403.95 343.10,404.22 340.40,402.70 C337.70,401.18 336.32,398.38 334.30,395.70 C332.28,393.02 330.32,388.28 328.30,386.60 C326.28,384.92 324.22,384.08 322.20,385.60 C320.18,387.12 318.05,392.50 316.20,395.70 C314.35,398.90 311.95,403.28 311.10,404.80 Z" fill="#bcb9dd" stroke="none"/>
<path d="M311.10,394.00 C311.13,394.45 310.45,397.77 311.30,396.70 C312.15,395.63 314.38,390.30 316.20,387.60 C318.02,384.90 320.52,381.52 322.20,380.50 C323.88,379.48 324.62,379.98 326.30,381.50 C327.98,383.02 330.28,386.73 332.30,389.60 C334.32,392.47 336.38,396.68 338.40,398.70 C340.42,400.72 342.22,401.20 344.40,401.70 C346.58,402.20 349.13,401.18 351.50,401.70 C353.87,402.22 356.42,404.63 358.60,404.80 C360.78,404.97 362.75,405.23 364.60,402.70 C366.45,400.17 368.02,396.50 369.70,389.60 C371.38,382.70 373.73,367.57 374.70,361.30 C375.67,355.03 375.37,353.55 375.50,352.00" fill="none" stroke="#3a3a7c" stroke-width="0.8"/>
<path d="M311.10,404.80 C311.95,403.28 314.35,398.90 316.20,395.70 C318.05,392.50 320.18,387.12 322.20,385.60 C324.22,384.08 326.28,384.92 328.30,386.60 C330.32,388.28 332.28,393.02 334.30,395.70 C336.32,398.38 337.70,401.18 340.40,402.70 C343.10,404.22 347.82,403.95 350.50,404.80 C353.18,405.65 354.82,405.95 356.50,407.80 C358.18,409.65 359.25,411.20 360.60,415.90 C361.95,420.60 363.93,432.65 364.60,436.00" fill="none" stroke="#3a3a7c" stroke-width="0.8"/>
<path d="M311.10,400.70 C311.95,399.18 314.35,394.55 316.20,391.60 C318.05,388.65 320.35,384.27 322.20,383.00 C324.05,381.73 325.45,382.40 327.30,384.00 C329.15,385.60 331.28,389.82 333.30,392.60 C335.32,395.38 337.03,398.93 339.40,400.70 C341.77,402.47 344.65,402.43 347.50,403.20 C350.35,403.97 353.65,404.03 356.50,405.30 C359.35,406.57 362.40,410.22 364.60,410.80 C366.80,411.38 368.02,410.98 369.70,408.80 C371.38,406.62 373.12,402.58 374.70,397.70 C376.28,392.82 378.45,382.53 379.20,379.50" fill="none" stroke="#4a46a4" stroke-width="0.8"/>
</g>
<g clip-path="url(#cf21)"><path d="M311.10,475.00 L311.30,477.40 L314.10,472.40 L318.20,460.20 L322.20,463.30 L326.30,473.40 L328.30,478.40 L332.30,461.30 L336.30,472.40 L340.40,478.40 L344.40,479.40 L348.50,481.40 L352.50,449.10 L357.60,455.20 L360.20,444.00 L380.00,444.00 L380.00,521.00 L337.00,521.00 C336.88,518.78 336.75,511.27 336.30,507.70 C335.85,504.13 335.63,502.97 334.30,499.60 C332.97,496.23 330.32,491.53 328.30,487.50 C326.28,483.47 323.88,477.75 322.20,475.40 C320.52,473.05 320.05,472.05 318.20,473.40 C316.35,474.75 312.28,481.82 311.10,483.50 Z" fill="#bcb9dd" stroke="none"/>
<path d="M311.10,475.00 L311.30,477.40 L314.10,472.40 L318.20,460.20 L322.20,463.30 L326.30,473.40 L328.30,478.40 L332.30,461.30 L336.30,472.40 L340.40,478.40 L344.40,479.40 L348.50,481.40 L352.50,449.10 L357.60,455.20 L360.20,444.00" fill="none" stroke="#3a3a7c" stroke-width="0.8"/>
<path d="M311.10,483.50 C312.28,481.82 316.35,474.75 318.20,473.40 C320.05,472.05 320.52,473.05 322.20,475.40 C323.88,477.75 326.28,483.47 328.30,487.50 C330.32,491.53 332.97,496.23 334.30,499.60 C335.63,502.97 335.85,504.13 336.30,507.70 C336.75,511.27 336.88,518.78 337.00,521.00" fill="none" stroke="#3a3a7c" stroke-width="0.8"/>
<path d="M311.10,480.40 C312.28,478.22 316.02,468.13 318.20,467.30 C320.38,466.47 322.02,471.02 324.20,475.40 C326.38,479.78 329.10,490.40 331.30,493.60 C333.50,496.80 335.38,494.60 337.40,494.60 C339.42,494.60 341.83,492.43 343.40,493.60 C344.97,494.77 345.95,497.03 346.80,501.60 C347.65,506.17 348.22,517.77 348.50,521.00" fill="none" stroke="#4a46a4" stroke-width="0.8"/>
</g>
<g clip-path="url(#cf30)"><path d="M397.10,395.50 C397.13,395.87 395.95,397.17 397.30,397.70 C398.65,398.23 402.53,398.53 405.20,398.70 C407.87,398.87 410.62,399.53 413.30,398.70 C415.98,397.87 418.78,396.05 421.30,393.70 C423.82,391.35 426.37,387.47 428.40,384.60 C430.43,381.73 431.82,376.67 433.50,376.50 C435.18,376.33 436.82,380.73 438.50,383.60 C440.18,386.47 441.58,391.02 443.60,393.70 C445.62,396.38 448.58,400.72 450.60,399.70 C452.62,398.68 454.18,390.97 455.70,387.60 C457.22,384.23 458.70,381.60 459.70,379.50 C460.70,377.40 460.75,376.00 461.70,375.00 C462.65,374.00 464.78,373.75 465.40,373.50 L466.00,436.00 L440.50,436.00 C440.17,430.28 439.17,408.58 438.50,401.70 C437.83,394.82 437.68,395.70 436.50,394.70 C435.32,393.70 433.25,394.53 431.40,395.70 C429.55,396.87 427.25,399.85 425.40,401.70 C423.55,403.55 422.32,406.28 420.30,406.80 C418.28,407.32 415.82,404.80 413.30,404.80 C410.78,404.80 407.90,407.15 405.20,406.80 C402.50,406.45 398.45,403.38 397.10,402.70 Z" fill="#c6e3e3" stroke="none"/>
<path d="M397.10,395.50 C397.13,395.87 395.95,397.17 397.30,397.70 C398.65,398.23 402.53,398.53 405.20,398.70 C407.87,398.87 410.62,399.53 413.30,398.70 C415.98,397.87 418.78,396.05 421.30,393.70 C423.82,391.35 426.37,387.47 428.40,384.60 C430.43,381.73 431.82,376.67 433.50,376.50 C435.18,376.33 436.82,380.73 438.50,383.60 C440.18,386.47 441.58,391.02 443.60,393.70 C445.62,396.38 448.58,400.72 450.60,399.70 C452.62,398.68 454.18,390.97 455.70,387.60 C457.22,384.23 458.70,381.60 459.70,379.50 C460.70,377.40 460.75,376.00 461.70,375.00 C462.65,374.00 464.78,373.75 465.40,373.50" fill="none" stroke="#2e5c5e" stroke-width="0.8"/>
<path d="M397.10,402.70 C398.45,403.38 402.50,406.45 405.20,406.80 C407.90,407.15 410.78,404.80 413.30,404.80 C415.82,404.80 418.28,407.32 420.30,406.80 C422.32,406.28 423.55,403.55 425.40,401.70 C427.25,399.85 429.55,396.87 431.40,395.70 C433.25,394.53 435.32,393.70 436.50,394.70 C437.68,395.70 437.83,394.82 438.50,401.70 C439.17,408.58 440.17,430.28 440.50,436.00" fill="none" stroke="#2e5c5e" stroke-width="0.8"/>
<path d="M397.10,400.70 C399.80,400.87 408.58,402.70 413.30,401.70 C418.02,400.70 422.03,396.65 425.40,394.70 C428.77,392.75 431.15,390.35 433.50,390.00 C435.85,389.65 437.48,390.65 439.50,392.60 C441.52,394.55 443.58,398.67 445.60,401.70 C447.62,404.73 449.58,408.77 451.60,410.80 C453.62,412.83 455.43,413.90 457.70,413.90 C459.97,413.90 463.95,411.32 465.20,410.80" fill="none" stroke="#3c9c9e" stroke-width="0.8"/>
</g>
<g clip-path="url(#cf31)"><path d="M396.70,474.50 L396.90,476.50 L400.60,479.10 L405.80,476.50 L411.00,476.50 L416.20,481.70 L421.30,488.20 L425.20,490.80 L429.10,484.30 L433.00,475.20 L436.90,471.30 L440.80,455.80 L443.40,453.20 L446.00,454.50 L448.60,463.60 L452.50,471.30 L457.70,476.50 L461.60,480.40 L465.40,479.10 L466.00,521.00 L432.50,521.00 C432.37,517.70 432.27,504.07 431.70,501.20 C431.13,498.33 430.38,503.80 429.10,503.80 C427.82,503.80 425.72,502.93 424.00,501.20 C422.28,499.47 420.97,496.43 418.80,493.40 C416.63,490.37 413.60,484.30 411.00,483.00 C408.40,481.70 405.58,485.82 403.20,485.60 C400.82,485.38 397.78,482.35 396.70,481.70 Z" fill="#c6e3e3" stroke="none"/>
<path d="M396.70,474.50 L396.90,476.50 L400.60,479.10 L405.80,476.50 L411.00,476.50 L416.20,481.70 L421.30,488.20 L425.20,490.80 L429.10,484.30 L433.00,475.20 L436.90,471.30 L440.80,455.80 L443.40,453.20 L446.00,454.50 L448.60,463.60 L452.50,471.30 L457.70,476.50 L461.60,480.40 L465.40,479.10" fill="none" stroke="#2e5c5e" stroke-width="0.8"/>
<path d="M396.70,481.70 C397.78,482.35 400.82,485.38 403.20,485.60 C405.58,485.82 408.40,481.70 411.00,483.00 C413.60,484.30 416.63,490.37 418.80,493.40 C420.97,496.43 422.28,499.47 424.00,501.20 C425.72,502.93 427.82,503.80 429.10,503.80 C430.38,503.80 431.13,498.33 431.70,501.20 C432.27,504.07 432.37,517.70 432.50,521.00" fill="none" stroke="#2e5c5e" stroke-width="0.8"/>
<path d="M396.70,479.10 C399.08,479.32 406.45,477.80 411.00,480.40 C415.55,483.00 420.55,493.18 424.00,494.70 C427.45,496.22 428.68,491.88 431.70,489.50 C434.72,487.12 439.50,482.78 442.10,480.40 C444.70,478.02 445.57,475.63 447.30,475.20 C449.03,474.77 450.55,475.63 452.50,477.80 C454.45,479.97 456.88,485.18 459.00,488.20 C461.12,491.22 464.17,494.62 465.20,495.90" fill="none" stroke="#3c9c9e" stroke-width="0.8"/>
</g>
<rect x="135.20" y="360.30" width="73.10" height="73.50" fill="none" stroke="#222" stroke-width="1.0" />
<rect x="135.20" y="446.10" width="73.10" height="73.30" fill="none" stroke="#222" stroke-width="1.0" />
<rect x="220.40" y="360.30" width="73.00" height="73.50" fill="none" stroke="#222" stroke-width="1.0" />
<rect x="220.40" y="446.10" width="73.00" height="73.30" fill="none" stroke="#222" stroke-width="1.0" />
<rect x="306.40" y="360.30" width="72.80" height="73.50" fill="none" stroke="#222" stroke-width="1.0" />
<rect x="306.40" y="446.10" width="72.80" height="73.30" fill="none" stroke="#222" stroke-width="1.0" />
<rect x="392.00" y="360.30" width="73.20" height="73.50" fill="none" stroke="#222" stroke-width="1.0" />
<rect x="392.00" y="446.10" width="73.20" height="73.30" fill="none" stroke="#222" stroke-width="1.0" />
<text x="5.20" y="566.20" font-size="11.00" fill="#111" font-weight="bold" >D</text>
<rect x="49.40" y="572.60" width="88.20" height="71.30" fill="none" stroke="#222" stroke-width="1.0" />
<line x1="46.80" y1="587.10" x2="49.40" y2="587.10" stroke="#222" stroke-width="0.9" />
<text x="44.20" y="590.00" font-size="9.03" fill="#2e2e2e" stroke="#2e2e2e" stroke-width="0.08" text-anchor="end" >1</text>
<line x1="46.80" y1="608.00" x2="49.40" y2="608.00" stroke="#222" stroke-width="0.9" />
<text x="44.20" y="610.90" font-size="9.03" fill="#2e2e2e" stroke="#2e2e2e" stroke-width="0.08" text-anchor="end" >0</text>
<line x1="46.80" y1="628.10" x2="49.40" y2="628.10" stroke="#222" stroke-width="0.9" />
<text x="44.20" y="631.00" font-size="9.03" fill="#2e2e2e" stroke="#2e2e2e" stroke-width="0.08" text-anchor="end" >−1</text>
<line x1="47.80" y1="576.70" x2="49.40" y2="576.70" stroke="#222" stroke-width="0.8" />
<line x1="47.80" y1="597.60" x2="49.40" y2="597.60" stroke="#222" stroke-width="0.8" />
<line x1="47.80" y1="618.00" x2="49.40" y2="618.00" stroke="#222" stroke-width="0.8" />
<line x1="47.80" y1="638.20" x2="49.40" y2="638.20" stroke="#222" stroke-width="0.8" />
<line x1="58.30" y1="643.90" x2="58.30" y2="646.40" stroke="#222" stroke-width="0.9" />
<line x1="81.50" y1="643.90" x2="81.50" y2="646.40" stroke="#222" stroke-width="0.9" />
<line x1="103.90" y1="643.90" x2="103.90" y2="646.40" stroke="#222" stroke-width="0.9" />
<line x1="126.50" y1="643.90" x2="126.50" y2="646.40" stroke="#222" stroke-width="0.9" />
<text x="58.30" y="656.60" font-size="9.09" fill="#2e2e2e" stroke="#2e2e2e" stroke-width="0.08" textLength="19.50" lengthAdjust="spacingAndGlyphs" text-anchor="middle" >0.351</text>
<text x="81.50" y="656.60" font-size="9.09" fill="#2e2e2e" stroke="#2e2e2e" stroke-width="0.08" textLength="19.50" lengthAdjust="spacingAndGlyphs" text-anchor="middle" >0.381</text>
<text x="103.90" y="656.60" font-size="9.09" fill="#2e2e2e" stroke="#2e2e2e" stroke-width="0.08" textLength="19.50" lengthAdjust="spacingAndGlyphs" text-anchor="middle" >0.411</text>
<text x="126.50" y="656.60" font-size="9.09" fill="#2e2e2e" stroke="#2e2e2e" stroke-width="0.08" textLength="19.50" lengthAdjust="spacingAndGlyphs" text-anchor="middle" >0.441</text>
<text x="95.20" y="669.60" font-size="10.03" fill="#2e2e2e" stroke="#2e2e2e" stroke-width="0.08" textLength="42.30" lengthAdjust="spacingAndGlyphs" text-anchor="middle" >Branch point</text>
<text transform="translate(15.20,608.80) rotate(-90)" x="0" y="3.11" font-size="8.64" fill="#2a2a2a" text-anchor="middle" stroke="#2a2a2a" stroke-width="0.08" textLength="40.60" lengthAdjust="spacingAndGlyphs">log(IκB<tspan baseline-shift="super" font-size="5">−</tspan>/WT</text>
<text transform="translate(26.40,607.70) rotate(-90)" x="0" y="3.11" font-size="8.64" fill="#2a2a2a" text-anchor="middle" stroke="#2a2a2a" stroke-width="0.08" textLength="41.80" lengthAdjust="spacingAndGlyphs">branch ratio)</text>
<polyline points="56.00,609.80 81.50,597.60 101.60,586.30 124.80,585.60" fill="none" stroke="#9a92cc" stroke-width="0.9" stroke-linejoin="round" />
<polyline points="56.00,610.30 81.50,602.80 101.60,598.70 125.40,595.80" fill="none" stroke="#4e4ea8" stroke-width="0.9" stroke-linejoin="round" />
<polyline points="56.60,602.20 81.50,601.60 100.40,612.10 124.80,618.50" fill="none" stroke="#eea2ba" stroke-width="0.9" stroke-linejoin="round" />
<polyline points="57.40,603.50 80.00,603.00 102.80,620.80 128.30,620.20" fill="none" stroke="#f2bccc" stroke-width="0.6" stroke-linejoin="round" />
<polyline points="56.60,610.90 81.50,615.60 102.80,617.90 128.30,627.20" fill="none" stroke="#3ca2a2" stroke-width="0.9" stroke-linejoin="round" />
<polyline points="60.70,619.00 84.40,624.30 102.80,620.80 128.30,620.20" fill="none" stroke="#7ccaca" stroke-width="0.9" stroke-linejoin="round" />
<line x1="55.70" y1="605.10" x2="55.70" y2="615.00" stroke="#4e4ea8" stroke-width="0.65" />
<line x1="54.80" y1="605.10" x2="56.60" y2="605.10" stroke="#4e4ea8" stroke-width="0.65" />
<line x1="54.80" y1="615.00" x2="56.60" y2="615.00" stroke="#4e4ea8" stroke-width="0.65" />
<line x1="57.40" y1="598.50" x2="57.40" y2="613.00" stroke="#eea2ba" stroke-width="0.65"  stroke-dasharray="1.6,1.0"/>
<line x1="56.50" y1="598.50" x2="58.30" y2="598.50" stroke="#eea2ba" stroke-width="0.65" />
<line x1="56.50" y1="613.00" x2="58.30" y2="613.00" stroke="#eea2ba" stroke-width="0.65" />
<line x1="60.70" y1="614.40" x2="60.70" y2="624.80" stroke="#7ccaca" stroke-width="0.65" />
<line x1="59.80" y1="614.40" x2="61.60" y2="614.40" stroke="#7ccaca" stroke-width="0.65" />
<line x1="59.80" y1="624.80" x2="61.60" y2="624.80" stroke="#7ccaca" stroke-width="0.65" />
<line x1="78.60" y1="600.50" x2="78.60" y2="608.00" stroke="#4e4ea8" stroke-width="0.65" />
<line x1="77.70" y1="600.50" x2="79.50" y2="600.50" stroke="#4e4ea8" stroke-width="0.65" />
<line x1="77.70" y1="608.00" x2="79.50" y2="608.00" stroke="#4e4ea8" stroke-width="0.65" />
<line x1="81.50" y1="592.40" x2="81.50" y2="602.80" stroke="#9a92cc" stroke-width="0.65" />
<line x1="80.60" y1="592.40" x2="82.40" y2="592.40" stroke="#9a92cc" stroke-width="0.65" />
<line x1="80.60" y1="602.80" x2="82.40" y2="602.80" stroke="#9a92cc" stroke-width="0.65" />
<line x1="81.50" y1="610.90" x2="81.50" y2="619.00" stroke="#3ca2a2" stroke-width="0.65" />
<line x1="80.60" y1="610.90" x2="82.40" y2="610.90" stroke="#3ca2a2" stroke-width="0.65" />
<line x1="80.60" y1="619.00" x2="82.40" y2="619.00" stroke="#3ca2a2" stroke-width="0.65" />
<line x1="84.40" y1="620.80" x2="84.40" y2="628.90" stroke="#7ccaca" stroke-width="0.65" />
<line x1="83.50" y1="620.80" x2="85.30" y2="620.80" stroke="#7ccaca" stroke-width="0.65" />
<line x1="83.50" y1="628.90" x2="85.30" y2="628.90" stroke="#7ccaca" stroke-width="0.65" />
<line x1="101.60" y1="579.00" x2="101.60" y2="602.80" stroke="#9a92cc" stroke-width="0.65"  stroke-dasharray="1.6,1.0"/>
<line x1="100.70" y1="579.00" x2="102.50" y2="579.00" stroke="#9a92cc" stroke-width="0.65" />
<line x1="100.70" y1="602.80" x2="102.50" y2="602.80" stroke="#9a92cc" stroke-width="0.65" />
<line x1="100.40" y1="606.50" x2="100.40" y2="622.50" stroke="#eea2ba" stroke-width="0.65"  stroke-dasharray="1.6,1.0"/>
<line x1="99.50" y1="606.50" x2="101.30" y2="606.50" stroke="#eea2ba" stroke-width="0.65" />
<line x1="99.50" y1="622.50" x2="101.30" y2="622.50" stroke="#eea2ba" stroke-width="0.65" />
<line x1="102.80" y1="614.40" x2="102.80" y2="624.80" stroke="#3ca2a2" stroke-width="0.65" />
<line x1="101.90" y1="614.40" x2="103.70" y2="614.40" stroke="#3ca2a2" stroke-width="0.65" />
<line x1="101.90" y1="624.80" x2="103.70" y2="624.80" stroke="#3ca2a2" stroke-width="0.65" />
<line x1="124.80" y1="576.10" x2="124.80" y2="602.80" stroke="#9a92cc" stroke-width="0.65" />
<line x1="123.90" y1="576.10" x2="125.70" y2="576.10" stroke="#9a92cc" stroke-width="0.65" />
<line x1="123.90" y1="602.80" x2="125.70" y2="602.80" stroke="#9a92cc" stroke-width="0.65" />
<line x1="125.40" y1="588.30" x2="125.40" y2="604.00" stroke="#4e4ea8" stroke-width="0.65"  stroke-dasharray="1.6,1.0"/>
<line x1="124.50" y1="588.30" x2="126.30" y2="588.30" stroke="#4e4ea8" stroke-width="0.65" />
<line x1="124.50" y1="604.00" x2="126.30" y2="604.00" stroke="#4e4ea8" stroke-width="0.65" />
<line x1="124.00" y1="602.00" x2="124.00" y2="634.00" stroke="#f2bccc" stroke-width="0.65"  stroke-dasharray="1.6,1.0"/>
<line x1="123.10" y1="602.00" x2="124.90" y2="602.00" stroke="#f2bccc" stroke-width="0.65" />
<line x1="123.10" y1="634.00" x2="124.90" y2="634.00" stroke="#f2bccc" stroke-width="0.65" />
<line x1="128.30" y1="612.00" x2="128.30" y2="638.20" stroke="#7ccaca" stroke-width="0.65" />
<line x1="127.40" y1="612.00" x2="129.20" y2="612.00" stroke="#7ccaca" stroke-width="0.65" />
<line x1="127.40" y1="638.20" x2="129.20" y2="638.20" stroke="#7ccaca" stroke-width="0.65" />
<text x="53.10" y="639.30" font-size="9.02" fill="#eea6ba" stroke="#eea6ba" stroke-width="0.08" textLength="15.70" lengthAdjust="spacingAndGlyphs" >EMP</text>
<text x="72.80" y="639.30" font-size="9.02" fill="#3c3c9c" stroke="#3c3c9c" stroke-width="0.08" textLength="15.10" lengthAdjust="spacingAndGlyphs" >MyP</text>
<text x="90.50" y="639.30" font-size="9.02" fill="#3ca6ac" stroke="#3ca6ac" stroke-width="0.08" textLength="12.50" lengthAdjust="spacingAndGlyphs" >LyP</text>
<rect x="49.40" y="572.60" width="88.20" height="71.30" fill="none" stroke="#222" stroke-width="1.0" />
<rect x="196.50" y="572.60" width="87.90" height="71.30" fill="none" stroke="#222" stroke-width="1.0" />
<line x1="193.90" y1="576.40" x2="196.50" y2="576.40" stroke="#222" stroke-width="0.9" />
<text x="191.40" y="579.30" font-size="9.03" fill="#2e2e2e" stroke="#2e2e2e" stroke-width="0.08" text-anchor="end" >20</text>
<line x1="193.90" y1="597.60" x2="196.50" y2="597.60" stroke="#222" stroke-width="0.9" />
<text x="191.40" y="600.50" font-size="9.03" fill="#2e2e2e" stroke="#2e2e2e" stroke-width="0.08" text-anchor="end" >10</text>
<line x1="193.90" y1="618.50" x2="196.50" y2="618.50" stroke="#222" stroke-width="0.9" />
<text x="191.40" y="621.40" font-size="9.03" fill="#2e2e2e" stroke="#2e2e2e" stroke-width="0.08" text-anchor="end" >0</text>
<line x1="193.90" y1="639.30" x2="196.50" y2="639.30" stroke="#222" stroke-width="0.9" />
<text x="191.40" y="642.20" font-size="9.03" fill="#2e2e2e" stroke="#2e2e2e" stroke-width="0.08" text-anchor="end" >−10</text>
<line x1="194.90" y1="587.10" x2="196.50" y2="587.10" stroke="#222" stroke-width="0.8" />
<line x1="194.90" y1="608.00" x2="196.50" y2="608.00" stroke="#222" stroke-width="0.8" />
<line x1="194.90" y1="628.90" x2="196.50" y2="628.90" stroke="#222" stroke-width="0.8" />
<line x1="204.50" y1="643.90" x2="204.50" y2="646.40" stroke="#222" stroke-width="0.9" />
<line x1="227.40" y1="643.90" x2="227.40" y2="646.40" stroke="#222" stroke-width="0.9" />
<line x1="249.60" y1="643.90" x2="249.60" y2="646.40" stroke="#222" stroke-width="0.9" />
<line x1="272.20" y1="643.90" x2="272.20" y2="646.40" stroke="#222" stroke-width="0.9" />
<text x="204.50" y="656.60" font-size="9.09" fill="#2e2e2e" stroke="#2e2e2e" stroke-width="0.08" textLength="19.50" lengthAdjust="spacingAndGlyphs" text-anchor="middle" >0.351</text>
<text x="227.40" y="656.60" font-size="9.09" fill="#2e2e2e" stroke="#2e2e2e" stroke-width="0.08" textLength="19.50" lengthAdjust="spacingAndGlyphs" text-anchor="middle" >0.381</text>
<text x="249.60" y="656.60" font-size="9.09" fill="#2e2e2e" stroke="#2e2e2e" stroke-width="0.08" textLength="19.50" lengthAdjust="spacingAndGlyphs" text-anchor="middle" >0.411</text>
<text x="272.20" y="656.60" font-size="9.09" fill="#2e2e2e" stroke="#2e2e2e" stroke-width="0.08" textLength="19.50" lengthAdjust="spacingAndGlyphs" text-anchor="middle" >0.441</text>
<text x="241.70" y="669.60" font-size="10.03" fill="#2e2e2e" stroke="#2e2e2e" stroke-width="0.08" textLength="42.00" lengthAdjust="spacingAndGlyphs" text-anchor="middle" >Branch point</text>
<text transform="translate(150.40,608.00) rotate(-90)" x="0" y="3.11" font-size="8.64" fill="#2a2a2a" text-anchor="middle" stroke="#2a2a2a" stroke-width="0.08" textLength="41.50" lengthAdjust="spacingAndGlyphs">IκB<tspan baseline-shift="super" font-size="5">−</tspan> –WT flux</text>
<line x1="143.80" y1="589.00" x2="143.80" y2="628.80" stroke="#333" stroke-width="0.8" />
<text transform="translate(162.60,616.40) rotate(-90)" x="0" y="3.11" font-size="8.64" fill="#2a2a2a" text-anchor="middle" stroke="#2a2a2a" stroke-width="0.08" textLength="18.50" lengthAdjust="spacingAndGlyphs">func.|</text>
<line x1="157.40" y1="610.50" x2="157.40" y2="624.00" stroke="#333" stroke-width="0.7" />
<text transform="translate(160.00,598.60) rotate(-90)" x="0" y="2.64" font-size="7.34" fill="#2a2a2a" text-anchor="middle" stroke="#2a2a2a" stroke-width="0.08" textLength="9.40" lengthAdjust="spacingAndGlyphs">0.5</text>
<text transform="translate(168.60,596.20) rotate(-90)" x="0" y="2.64" font-size="7.34" fill="#2a2a2a" text-anchor="middle" stroke="#2a2a2a" stroke-width="0.08" textLength="14.30" lengthAdjust="spacingAndGlyphs">br.pt</text>
<polyline points="202.40,589.50 227.40,590.00 247.30,590.00 272.20,591.20" fill="none" stroke="#4a4a9a" stroke-width="0.9" stroke-linejoin="round" />
<polyline points="208.20,583.10 229.10,593.50 247.30,600.50 272.80,608.00 274.50,608.60" fill="none" stroke="#6c5caa" stroke-width="0.9" stroke-linejoin="round" />
<polyline points="201.90,605.70 226.80,606.90 253.00,612.70 271.00,622.00" fill="none" stroke="#7ccaca" stroke-width="0.9" stroke-linejoin="round" />
<polyline points="206.50,611.50 230.30,613.20 247.30,599.90 269.30,591.80" fill="none" stroke="#eea2ba" stroke-width="0.9" stroke-linejoin="round" />
<polyline points="206.50,614.40 230.30,616.70 253.00,612.70 271.60,610.30" fill="none" stroke="#f2bccc" stroke-width="0.9" stroke-linejoin="round" />
<polyline points="208.20,622.30 227.40,622.50 251.30,624.60 271.60,617.90" fill="none" stroke="#3ca2a2" stroke-width="0.9" stroke-linejoin="round" />
<line x1="202.40" y1="585.40" x2="202.40" y2="593.50" stroke="#4a4a9a" stroke-width="0.65" />
<line x1="201.50" y1="585.40" x2="203.30" y2="585.40" stroke="#4a4a9a" stroke-width="0.65" />
<line x1="201.50" y1="593.50" x2="203.30" y2="593.50" stroke="#4a4a9a" stroke-width="0.65" />
<line x1="208.20" y1="576.10" x2="208.20" y2="589.50" stroke="#6c5caa" stroke-width="0.65" />
<line x1="207.30" y1="576.10" x2="209.10" y2="576.10" stroke="#6c5caa" stroke-width="0.65" />
<line x1="207.30" y1="589.50" x2="209.10" y2="589.50" stroke="#6c5caa" stroke-width="0.65" />
<line x1="229.10" y1="580.80" x2="229.10" y2="602.80" stroke="#6c5caa" stroke-width="0.65"  stroke-dasharray="1.6,1.0"/>
<line x1="228.20" y1="580.80" x2="230.00" y2="580.80" stroke="#6c5caa" stroke-width="0.65" />
<line x1="228.20" y1="602.80" x2="230.00" y2="602.80" stroke="#6c5caa" stroke-width="0.65" />
<line x1="201.90" y1="601.60" x2="201.90" y2="610.30" stroke="#7ccaca" stroke-width="0.65"  stroke-dasharray="1.6,1.0"/>
<line x1="201.00" y1="601.60" x2="202.80" y2="601.60" stroke="#7ccaca" stroke-width="0.65" />
<line x1="201.00" y1="610.30" x2="202.80" y2="610.30" stroke="#7ccaca" stroke-width="0.65" />
<line x1="226.80" y1="602.20" x2="226.80" y2="611.50" stroke="#7ccaca" stroke-width="0.65"  stroke-dasharray="1.6,1.0"/>
<line x1="225.90" y1="602.20" x2="227.70" y2="602.20" stroke="#7ccaca" stroke-width="0.65" />
<line x1="225.90" y1="611.50" x2="227.70" y2="611.50" stroke="#7ccaca" stroke-width="0.65" />
<line x1="206.50" y1="608.60" x2="206.50" y2="616.70" stroke="#eea2ba" stroke-width="0.65"  stroke-dasharray="1.6,1.0"/>
<line x1="205.60" y1="608.60" x2="207.40" y2="608.60" stroke="#eea2ba" stroke-width="0.65" />
<line x1="205.60" y1="616.70" x2="207.40" y2="616.70" stroke="#eea2ba" stroke-width="0.65" />
<line x1="230.30" y1="610.90" x2="230.30" y2="619.00" stroke="#eea2ba" stroke-width="0.65"  stroke-dasharray="1.6,1.0"/>
<line x1="229.40" y1="610.90" x2="231.20" y2="610.90" stroke="#eea2ba" stroke-width="0.65" />
<line x1="229.40" y1="619.00" x2="231.20" y2="619.00" stroke="#eea2ba" stroke-width="0.65" />
<line x1="208.20" y1="617.90" x2="208.20" y2="627.70" stroke="#3ca2a2" stroke-width="0.65" />
<line x1="207.30" y1="617.90" x2="209.10" y2="617.90" stroke="#3ca2a2" stroke-width="0.65" />
<line x1="207.30" y1="627.70" x2="209.10" y2="627.70" stroke="#3ca2a2" stroke-width="0.65" />
<line x1="227.40" y1="617.90" x2="227.40" y2="628.90" stroke="#3ca2a2" stroke-width="0.65" />
<line x1="226.50" y1="617.90" x2="228.30" y2="617.90" stroke="#3ca2a2" stroke-width="0.65" />
<line x1="226.50" y1="628.90" x2="228.30" y2="628.90" stroke="#3ca2a2" stroke-width="0.65" />
<line x1="247.30" y1="585.40" x2="247.30" y2="610.90" stroke="#4a4a9a" stroke-width="0.65"  stroke-dasharray="1.6,1.0"/>
<line x1="246.40" y1="585.40" x2="248.20" y2="585.40" stroke="#4a4a9a" stroke-width="0.65" />
<line x1="246.40" y1="610.90" x2="248.20" y2="610.90" stroke="#4a4a9a" stroke-width="0.65" />
<line x1="272.20" y1="580.20" x2="272.20" y2="600.50" stroke="#4a4a9a" stroke-width="0.65" />
<line x1="271.30" y1="580.20" x2="273.10" y2="580.20" stroke="#4a4a9a" stroke-width="0.65" />
<line x1="271.30" y1="600.50" x2="273.10" y2="600.50" stroke="#4a4a9a" stroke-width="0.65" />
<line x1="274.50" y1="594.70" x2="274.50" y2="623.70" stroke="#6c5caa" stroke-width="0.65"  stroke-dasharray="1.6,1.0"/>
<line x1="273.60" y1="594.70" x2="275.40" y2="594.70" stroke="#6c5caa" stroke-width="0.65" />
<line x1="273.60" y1="623.70" x2="275.40" y2="623.70" stroke="#6c5caa" stroke-width="0.65" />
<line x1="269.30" y1="580.00" x2="269.30" y2="604.00" stroke="#eea2ba" stroke-width="0.65"  stroke-dasharray="1.6,1.0"/>
<line x1="268.40" y1="580.00" x2="270.20" y2="580.00" stroke="#eea2ba" stroke-width="0.65" />
<line x1="268.40" y1="604.00" x2="270.20" y2="604.00" stroke="#eea2ba" stroke-width="0.65" />
<line x1="271.00" y1="606.30" x2="271.00" y2="639.90" stroke="#7ccaca" stroke-width="0.65" />
<line x1="270.10" y1="606.30" x2="271.90" y2="606.30" stroke="#7ccaca" stroke-width="0.65" />
<line x1="270.10" y1="639.90" x2="271.90" y2="639.90" stroke="#7ccaca" stroke-width="0.65" />
<line x1="251.30" y1="615.60" x2="251.30" y2="631.20" stroke="#3ca2a2" stroke-width="0.65" />
<line x1="250.40" y1="615.60" x2="252.20" y2="615.60" stroke="#3ca2a2" stroke-width="0.65" />
<line x1="250.40" y1="631.20" x2="252.20" y2="631.20" stroke="#3ca2a2" stroke-width="0.65" />
<line x1="253.00" y1="606.90" x2="253.00" y2="616.70" stroke="#7ccaca" stroke-width="0.65"  stroke-dasharray="1.6,1.0"/>
<line x1="252.10" y1="606.90" x2="253.90" y2="606.90" stroke="#7ccaca" stroke-width="0.65" />
<line x1="252.10" y1="616.70" x2="253.90" y2="616.70" stroke="#7ccaca" stroke-width="0.65" />
<rect x="196.50" y="572.60" width="87.90" height="71.30" fill="none" stroke="#222" stroke-width="1.0" />
<line x1="208.20" y1="679.00" x2="216.00" y2="679.00" stroke="#222" stroke-width="1.3" />
<text x="219.40" y="681.60" font-size="8.58" fill="#333" stroke="#333" stroke-width="0.08" textLength="19.40" lengthAdjust="spacingAndGlyphs" >Rep 1</text>
<line x1="243.50" y1="679.00" x2="254.00" y2="679.00" stroke="#222" stroke-width="1.3" stroke-dasharray="2,1.5"/>
<text x="257.00" y="681.60" font-size="8.58" fill="#333" stroke="#333" stroke-width="0.08" textLength="19.40" lengthAdjust="spacingAndGlyphs" >Rep 2</text>
<text x="300.00" y="566.00" font-size="11.00" fill="#111" font-weight="bold" >E</text>
<path clip-path="url(#ce1)" d="M336.4,572 L336.4,630.8 L339,631.3 L346,628.7 L354.6,629.9 L371.9,630.4 L402,631.1 L402,572 Z" fill="#bfbfe0"/>
<path clip-path="url(#ce1)" d="M340.8,572 C342,585 346,600 351.2,607.4 C355,605.5 360,604 363.3,602.2 C366,599 368,594 369,589 C370.5,582 371.5,577 371.9,572 Z" fill="#fff" stroke="#3e3e74" stroke-width="0.8"/>
<path clip-path="url(#ce1)" d="M336.4,630.8 L339,631.3 L346,628.7 L354.6,629.9 L371.9,630.4 L402,631.1" fill="none" stroke="#3e3e74" stroke-width="0.8"/>
<path clip-path="url(#ce1)" d="M336.4,613.5 L380.6,614.7 C384,615.3 386,615.8 389.2,616.9 C393,618 397,619.5 401.6,620.5" fill="none" stroke="#4242a0" stroke-width="0.9"/>
<path clip-path="url(#ce1)" d="M393.8,572 L394.5,600 L396.8,600 L397,572 Z" fill="#cbcbea"/>
<path clip-path="url(#ce1)" d="M397.9,572 L397.9,604.3" fill="none" stroke="#54548c" stroke-width="1.3"/>
<rect x="331.00" y="573.40" width="70.60" height="70.40" fill="none" stroke="#222" stroke-width="1.0" />
<line x1="328.40" y1="578.00" x2="331.00" y2="578.00" stroke="#222" stroke-width="0.9" />
<text x="325.80" y="580.90" font-size="9.03" fill="#2e2e2e" stroke="#2e2e2e" stroke-width="0.08" text-anchor="end" >2</text>
<line x1="328.40" y1="595.80" x2="331.00" y2="595.80" stroke="#222" stroke-width="0.9" />
<text x="325.80" y="598.70" font-size="9.03" fill="#2e2e2e" stroke="#2e2e2e" stroke-width="0.08" text-anchor="end" >1</text>
<line x1="328.40" y1="613.50" x2="331.00" y2="613.50" stroke="#222" stroke-width="0.9" />
<text x="325.80" y="616.40" font-size="9.03" fill="#2e2e2e" stroke="#2e2e2e" stroke-width="0.08" text-anchor="end" >0</text>
<line x1="328.40" y1="631.10" x2="331.00" y2="631.10" stroke="#222" stroke-width="0.9" />
<text x="325.80" y="634.00" font-size="9.03" fill="#2e2e2e" stroke="#2e2e2e" stroke-width="0.08" text-anchor="end" >−1</text>
<line x1="329.40" y1="586.90" x2="331.00" y2="586.90" stroke="#222" stroke-width="0.8" />
<line x1="329.40" y1="604.60" x2="331.00" y2="604.60" stroke="#222" stroke-width="0.8" />
<line x1="329.40" y1="622.30" x2="331.00" y2="622.30" stroke="#222" stroke-width="0.8" />
<line x1="329.40" y1="640.00" x2="331.00" y2="640.00" stroke="#222" stroke-width="0.8" />
<line x1="338.70" y1="643.80" x2="338.70" y2="646.20" stroke="#222" stroke-width="0.9" />
<line x1="346.60" y1="643.80" x2="346.60" y2="646.20" stroke="#222" stroke-width="0.9" />
<line x1="354.50" y1="643.80" x2="354.50" y2="646.20" stroke="#222" stroke-width="0.9" />
<line x1="362.40" y1="643.80" x2="362.40" y2="646.20" stroke="#222" stroke-width="0.9" />
<line x1="370.30" y1="643.80" x2="370.30" y2="646.20" stroke="#222" stroke-width="0.9" />
<line x1="378.20" y1="643.80" x2="378.20" y2="646.20" stroke="#222" stroke-width="0.9" />
<line x1="386.10" y1="643.80" x2="386.10" y2="646.20" stroke="#222" stroke-width="0.9" />
<line x1="394.00" y1="643.80" x2="394.00" y2="646.20" stroke="#222" stroke-width="0.9" />
<text x="338.20" y="656.20" font-size="9.09" fill="#2e2e2e" stroke="#2e2e2e" stroke-width="0.08" textLength="10.60" lengthAdjust="spacingAndGlyphs" text-anchor="middle" >0.4</text>
<text x="369.80" y="656.20" font-size="9.09" fill="#2e2e2e" stroke="#2e2e2e" stroke-width="0.08" textLength="10.60" lengthAdjust="spacingAndGlyphs" text-anchor="middle" >0.6</text>
<text x="395.50" y="656.20" font-size="9.09" fill="#2e2e2e" stroke="#2e2e2e" stroke-width="0.08" textLength="10.60" lengthAdjust="spacingAndGlyphs" text-anchor="middle" >0.8</text>
<text x="365.70" y="669.60" font-size="10.03" fill="#2e2e2e" stroke="#2e2e2e" stroke-width="0.08" textLength="39.80" lengthAdjust="spacingAndGlyphs" text-anchor="middle" >Pseudotime</text>
<text x="345.80" y="681.80" font-size="9.24" fill="#333" stroke="#333" stroke-width="0.08" textLength="17.70" lengthAdjust="spacingAndGlyphs" >Rep 1</text>
<text x="371.20" y="681.80" font-size="9.24" fill="#4848a8" stroke="#4848a8" stroke-width="0.08" textLength="11.10" lengthAdjust="spacingAndGlyphs" >MyP</text>
<text transform="translate(308.00,609.00) rotate(-90)" x="0" y="3.27" font-size="9.07" fill="#2a2a2a" text-anchor="middle" stroke="#2a2a2a" stroke-width="0.08" textLength="52.00" lengthAdjust="spacingAndGlyphs">(V<tspan baseline-shift="sub" font-size="5.5">IκB−</tspan>- V<tspan baseline-shift="sub" font-size="5.5">WT</tspan>)/ V<tspan baseline-shift="sub" font-size="5.5">WT</tspan></text>
<path clip-path="url(#ce2)" d="M442.5,572 L442.5,634 L446,630.5 L451.4,627.3 L458,628.7 L466.7,631.4 L466.7,645 L509,645 L509,572 Z" fill="#bfbfe0"/>
<path clip-path="url(#ce2)" d="M442.5,634 L446,630.5 L451.4,627.3 L458,628.7 L466.7,631.4 L466.7,645" fill="none" stroke="#3e3e74" stroke-width="0.8"/>
<path clip-path="url(#ce2)" d="M442.5,572 L442.5,634" fill="none" stroke="#3e3e74" stroke-width="0.8"/>
<path clip-path="url(#ce2)" d="M469.4,572 L469.8,600 Q472,604 474.2,600 L474.8,572 Z" fill="#fff" stroke="#3e3e74" stroke-width="0.8"/>
<path clip-path="url(#ce2)" d="M477.3,582 L476.6,601" fill="none" stroke="#3e3e74" stroke-width="0.8"/>
<path clip-path="url(#ce2)" d="M476.6,572 L476.8,590 C477.5,596 480,598.5 482,598.5 C484.5,598.5 487,596 487.7,590 L488.2,572 Z" fill="#fff" stroke="#3e3e74" stroke-width="0.8"/>
<path clip-path="url(#ce2)" d="M499.8,572 L500,590 Q502,596.5 504.2,590 L504.4,572 Z" fill="#fff" stroke="#3e3e74" stroke-width="0.8"/>
<path clip-path="url(#ce2)" d="M442.8,613.9 L451,596 L460.8,576.7 L468.8,613.9 L471.5,617.9 C475,617 478,615.2 481,615.2 C485,615.5 487.5,618.7 490.4,618.7 C494,618 496,613.5 498.5,612.5 C502,610.5 505,608.5 508.7,607.1" fill="none" stroke="#4242a0" stroke-width="0.9"/>
<rect x="437.30" y="573.40" width="71.60" height="70.40" fill="none" stroke="#222" stroke-width="1.0" />
<line x1="434.70" y1="577.30" x2="437.30" y2="577.30" stroke="#222" stroke-width="0.9" />
<text x="432.10" y="580.20" font-size="9.03" fill="#2e2e2e" stroke="#2e2e2e" stroke-width="0.08" text-anchor="end" >2</text>
<line x1="434.70" y1="595.20" x2="437.30" y2="595.20" stroke="#222" stroke-width="0.9" />
<text x="432.10" y="598.10" font-size="9.03" fill="#2e2e2e" stroke="#2e2e2e" stroke-width="0.08" text-anchor="end" >1</text>
<line x1="434.70" y1="613.00" x2="437.30" y2="613.00" stroke="#222" stroke-width="0.9" />
<text x="432.10" y="615.90" font-size="9.03" fill="#2e2e2e" stroke="#2e2e2e" stroke-width="0.08" text-anchor="end" >0</text>
<line x1="434.70" y1="630.90" x2="437.30" y2="630.90" stroke="#222" stroke-width="0.9" />
<text x="432.10" y="633.80" font-size="9.03" fill="#2e2e2e" stroke="#2e2e2e" stroke-width="0.08" text-anchor="end" >−1</text>
<line x1="435.70" y1="586.20" x2="437.30" y2="586.20" stroke="#222" stroke-width="0.8" />
<line x1="435.70" y1="604.20" x2="437.30" y2="604.20" stroke="#222" stroke-width="0.8" />
<line x1="435.70" y1="621.90" x2="437.30" y2="621.90" stroke="#222" stroke-width="0.8" />
<line x1="435.70" y1="639.90" x2="437.30" y2="639.90" stroke="#222" stroke-width="0.8" />
<line x1="444.60" y1="643.80" x2="444.60" y2="646.20" stroke="#222" stroke-width="0.9" />
<line x1="452.40" y1="643.80" x2="452.40" y2="646.20" stroke="#222" stroke-width="0.9" />
<line x1="460.10" y1="643.80" x2="460.10" y2="646.20" stroke="#222" stroke-width="0.9" />
<line x1="467.90" y1="643.80" x2="467.90" y2="646.20" stroke="#222" stroke-width="0.9" />
<line x1="475.60" y1="643.80" x2="475.60" y2="646.20" stroke="#222" stroke-width="0.9" />
<line x1="483.40" y1="643.80" x2="483.40" y2="646.20" stroke="#222" stroke-width="0.9" />
<line x1="491.10" y1="643.80" x2="491.10" y2="646.20" stroke="#222" stroke-width="0.9" />
<line x1="498.90" y1="643.80" x2="498.90" y2="646.20" stroke="#222" stroke-width="0.9" />
<line x1="506.60" y1="643.80" x2="506.60" y2="646.20" stroke="#222" stroke-width="0.9" />
<text x="444.60" y="655.80" font-size="9.09" fill="#2e2e2e" stroke="#2e2e2e" stroke-width="0.08" textLength="10.60" lengthAdjust="spacingAndGlyphs" text-anchor="middle" >0.4</text>
<text x="475.60" y="655.80" font-size="9.09" fill="#2e2e2e" stroke="#2e2e2e" stroke-width="0.08" textLength="10.60" lengthAdjust="spacingAndGlyphs" text-anchor="middle" >0.6</text>
<text x="504.40" y="655.80" font-size="9.09" fill="#2e2e2e" stroke="#2e2e2e" stroke-width="0.08" textLength="10.60" lengthAdjust="spacingAndGlyphs" text-anchor="middle" >0.8</text>
<text x="472.80" y="669.20" font-size="10.03" fill="#2e2e2e" stroke="#2e2e2e" stroke-width="0.08" textLength="40.30" lengthAdjust="spacingAndGlyphs" text-anchor="middle" >Pseudotime</text>
<text transform="translate(413.30,609.40) rotate(-90)" x="0" y="3.19" font-size="8.86" fill="#2a2a2a" text-anchor="middle" stroke="#2a2a2a" stroke-width="0.08" textLength="52.00" lengthAdjust="spacingAndGlyphs">(r<tspan baseline-shift="sub" font-size="5">IκB−</tspan>- r<tspan baseline-shift="sub" font-size="5">WT</tspan>)/ |r<tspan baseline-shift="sub" font-size="5">WT</tspan>|</text>
<line x1="433.80" y1="678.50" x2="442.50" y2="678.50" stroke="#222" stroke-width="1.4" />
<text x="446.00" y="681.00" font-size="8.36" fill="#333" stroke="#333" stroke-width="0.08" textLength="22.90" lengthAdjust="spacingAndGlyphs" >median</text>
<rect x="476.40" y="676.30" width="5.40" height="5.40" fill="#bdbdbd" stroke="none" stroke-width="1" />
<text x="484.50" y="681.00" font-size="8.36" fill="#333" stroke="#333" stroke-width="0.08" textLength="28.80" lengthAdjust="spacingAndGlyphs" >max-min</text>
</svg></body></html>
